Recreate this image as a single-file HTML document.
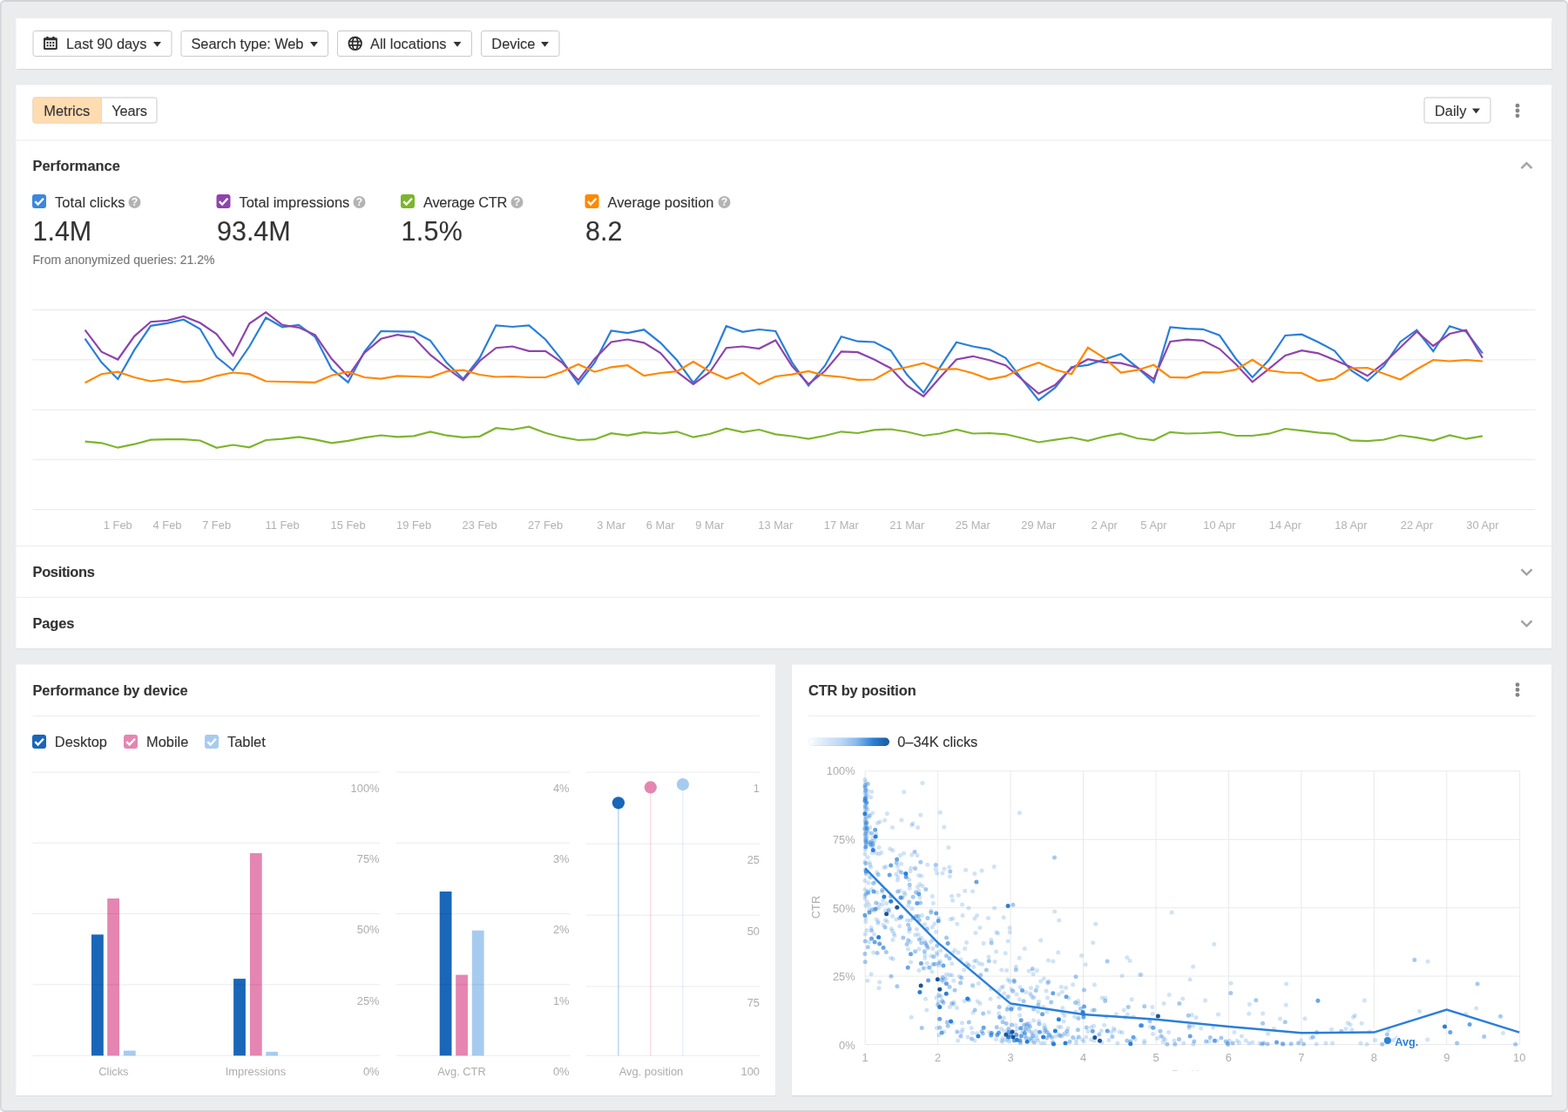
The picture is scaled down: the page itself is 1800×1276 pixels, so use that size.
<!DOCTYPE html>
<html lang="en"><head><meta charset="utf-8"><title>Performance dashboard</title>
<style>
*{box-sizing:border-box;margin:0;padding:0}
html,body{width:1800px;height:1276px;background:#fff;overflow:hidden}
#root{position:absolute;left:0;top:0;width:3600px;height:2552px;transform:scale(0.5);transform-origin:0 0}
body{font-family:"Liberation Sans", Arial, Helvetica, sans-serif;color:#333333;font-size:32px;position:relative}
#frame{position:absolute;left:0;top:0;width:3600px;height:2552px;background:#ebecee;border:solid #d1d3d6;border-width:4px 3.5px 4px 3.5px;border-radius:11px;overflow:hidden}
.panel{position:absolute;background:#fff;box-shadow:0 1px 2px rgba(0,0,0,0.09)}
.abs{position:absolute}
.t{position:absolute;white-space:nowrap;line-height:40px;-webkit-text-stroke:0.24px currentColor}
.b{font-weight:bold}
.btn{position:absolute;height:60px;border:2px solid #c9c9c9;border-radius:6px;background:#fff}
.hr{position:absolute;height:2px;background:#ececec}
svg{position:absolute;left:0;top:0;overflow:visible}
svg text{font-family:"Liberation Sans", Arial, Helvetica, sans-serif}
</style></head><body>
<div id="root">
<div id="frame"></div>
<div class="panel" style="left:37px;top:42px;width:3526px;height:116px"></div>
<div class="panel" style="left:37px;top:194.5px;width:3526px;height:1293.5px"></div>
<div class="panel" style="left:37px;top:1525px;width:1744px;height:989px"></div>
<div class="panel" style="left:1818px;top:1525px;width:1745px;height:989px"></div>
<div class="btn" style="left:75px;top:70px;width:320px;height:60px;"></div>
<svg class="abs" style="left:100.4px;top:83.6px;width:31.6px;height:30px" viewBox="0 0 15.8 15"><path d="M3.1 0.4a0.4 0.4 0 0 1 0.4-0.4h1.8a0.4 0.4 0 0 1 0.4 0.4v0.9h4.4v-0.9a0.4 0.4 0 0 1 0.4-0.4h1.8a0.4 0.4 0 0 1 0.4 0.4v0.9h1.7c0.8 0 1.4 0.6 1.4 1.4v10.9c0 0.8-0.6 1.4-1.4 1.4h-13c-0.8 0-1.4-0.6-1.4-1.4v-10.9c0-0.8 0.6-1.4 1.4-1.4h1.7z" fill="#2e2e2e"/><rect x="1.85" y="4.2" width="12.1" height="8.9" fill="#ececec"/><g fill="#222"><rect x="3.6" y="6.0" width="1.9" height="1.9" rx="0.5"/><rect x="6.95" y="6.0" width="1.9" height="1.9" rx="0.5"/><rect x="10.3" y="6.0" width="1.9" height="1.9" rx="0.5"/><rect x="3.6" y="9.3" width="1.9" height="1.9" rx="0.5"/><rect x="6.95" y="9.3" width="1.9" height="1.9" rx="0.5"/><rect x="10.3" y="9.3" width="1.9" height="1.9" rx="0.5"/></g></svg>
<div class="t " style="top:80.02px;font-size:32.82px;color:#333333;left:152px;letter-spacing:-0.12px;">Last 90 days</div>
<svg class="abs" style="left:352px;top:95.8px;width:18px;height:11.6px" viewBox="0 0 9 5.8"><path d="M0 0H9L4.5 5.8Z" fill="#333"/></svg>
<div class="btn" style="left:414.5px;top:70px;width:339.5px;height:60px;"></div>
<div class="t " style="top:80.02px;font-size:32.82px;color:#333333;left:439px;letter-spacing:-0.16px;">Search type: Web</div>
<svg class="abs" style="left:711.6px;top:95.8px;width:18px;height:11.6px" viewBox="0 0 9 5.8"><path d="M0 0H9L4.5 5.8Z" fill="#333"/></svg>
<div class="btn" style="left:774px;top:70px;width:310px;height:60px;"></div>
<svg class="abs" style="left:798.6px;top:83px;width:32.8px;height:32.8px" viewBox="0 0 16.4 16.4"><g fill="none" stroke="#2e2e2e" stroke-width="1.75"><circle cx="8.2" cy="8.35" r="7.3"/><ellipse cx="8.2" cy="8.35" rx="3.1" ry="7.3"/><path d="M1.3 6.2h13.8M1.3 10.5h13.8"/></g></svg>
<div class="t " style="top:80.02px;font-size:32.82px;color:#333333;left:850px;">All locations</div>
<svg class="abs" style="left:1041.2px;top:95.8px;width:18px;height:11.6px" viewBox="0 0 9 5.8"><path d="M0 0H9L4.5 5.8Z" fill="#333"/></svg>
<div class="btn" style="left:1104px;top:70px;width:181.4px;height:60px;"></div>
<div class="t " style="top:80.02px;font-size:32.82px;color:#333333;left:1128.6px;">Device</div>
<svg class="abs" style="left:1242px;top:95.8px;width:18px;height:11.6px" viewBox="0 0 9 5.8"><path d="M0 0H9L4.5 5.8Z" fill="#333"/></svg>
<div class="btn" style="left:75px;top:223px;width:286px;height:60px"></div>
<div class="abs" style="left:75px;top:223px;width:158.5px;height:60px;background:#ffdcb1;border:2px solid #fbd5a8;border-radius:6px 0 0 6px"></div>
<div class="t " style="top:234.62px;font-size:32.82px;color:#333333;left:100.6px;">Metrics</div>
<div class="t " style="top:234.62px;font-size:32.82px;color:#333333;left:256.6px;letter-spacing:-0.4px;">Years</div>
<div class="btn" style="left:3269px;top:223px;width:154px;height:60px;"></div>
<div class="t " style="top:234.02px;font-size:32.82px;color:#333333;left:3294px;">Daily</div>
<svg class="abs" style="left:3379.6px;top:249px;width:18px;height:11.6px" viewBox="0 0 9 5.8"><path d="M0 0H9L4.5 5.8Z" fill="#333"/></svg>
<svg class="abs" style="left:3477.8px;top:235.6px;width:12px;height:36px" viewBox="0 0 6 18"><circle cx="3" cy="3.15" r="2.4" fill="#858585"/><circle cx="3" cy="9" r="2.4" fill="#858585"/><circle cx="3" cy="14.85" r="2.4" fill="#858585"/></svg>
<div class="hr" style="left:37px;top:321px;width:3526px"></div>
<div class="t " style="top:361.22px;font-size:32.82px;color:#333333;left:75px;font-weight:bold;">Performance</div>
<svg class="abs" style="left:3490.6px;top:370px;width:28px;height:20px" viewBox="0 0 14 10"><path d="M1 8.2L7 2.2L13 8.2" fill="none" stroke="#a3a3a3" stroke-width="2.5"/></svg>
<svg class="abs" style="left:74.4px;top:446.4px;width:32px;height:32px" viewBox="0 0 16 16"><rect x="0" y="0" width="16" height="16" rx="3" fill="#3a88dd"/><path d="M3.3 8.1L6.6 11.5L12.9 4.8" fill="none" stroke="#fff" stroke-width="2.4"/></svg>
<div class="t " style="top:443.82px;font-size:32.82px;color:#333333;left:126px;letter-spacing:0.2px;">Total clicks</div>
<svg class="abs" style="left:295.2px;top:450px;width:28px;height:28px" viewBox="0 0 14 14"><circle cx="7" cy="7" r="7" fill="#b3b3b3"/><text x="7" y="11.1" font-size="12.2" font-weight="bold" fill="#fff" text-anchor="middle">?</text></svg>
<div class="t " style="top:509.68px;font-size:60.94px;color:#333333;left:75px;">1.4M</div>
<svg class="abs" style="left:497.4px;top:446.4px;width:32px;height:32px" viewBox="0 0 16 16"><rect x="0" y="0" width="16" height="16" rx="3" fill="#8e44ad"/><path d="M3.3 8.1L6.6 11.5L12.9 4.8" fill="none" stroke="#fff" stroke-width="2.4"/></svg>
<div class="t " style="top:443.82px;font-size:32.82px;color:#333333;left:549px;">Total impressions</div>
<svg class="abs" style="left:810.8px;top:450px;width:28px;height:28px" viewBox="0 0 14 14"><circle cx="7" cy="7" r="7" fill="#b3b3b3"/><text x="7" y="11.1" font-size="12.2" font-weight="bold" fill="#fff" text-anchor="middle">?</text></svg>
<div class="t " style="top:509.68px;font-size:60.94px;color:#333333;left:498px;">93.4M</div>
<svg class="abs" style="left:920.4px;top:446.4px;width:32px;height:32px" viewBox="0 0 16 16"><rect x="0" y="0" width="16" height="16" rx="3" fill="#7db52e"/><path d="M3.3 8.1L6.6 11.5L12.9 4.8" fill="none" stroke="#fff" stroke-width="2.4"/></svg>
<div class="t " style="top:443.82px;font-size:32.82px;color:#333333;left:972px;letter-spacing:-0.54px;">Average CTR</div>
<svg class="abs" style="left:1173.2px;top:450px;width:28px;height:28px" viewBox="0 0 14 14"><circle cx="7" cy="7" r="7" fill="#b3b3b3"/><text x="7" y="11.1" font-size="12.2" font-weight="bold" fill="#fff" text-anchor="middle">?</text></svg>
<div class="t " style="top:509.68px;font-size:60.94px;color:#333333;left:921px;letter-spacing:0.6px;">1.5%</div>
<svg class="abs" style="left:1343.4px;top:446.4px;width:32px;height:32px" viewBox="0 0 16 16"><rect x="0" y="0" width="16" height="16" rx="3" fill="#ff8800"/><path d="M3.3 8.1L6.6 11.5L12.9 4.8" fill="none" stroke="#fff" stroke-width="2.4"/></svg>
<div class="t " style="top:443.82px;font-size:32.82px;color:#333333;left:1395px;">Average position</div>
<svg class="abs" style="left:1649px;top:450px;width:28px;height:28px" viewBox="0 0 14 14"><circle cx="7" cy="7" r="7" fill="#b3b3b3"/><text x="7" y="11.1" font-size="12.2" font-weight="bold" fill="#fff" text-anchor="middle">?</text></svg>
<div class="t " style="top:509.68px;font-size:60.94px;color:#333333;left:1344px;">8.2</div>
<div class="t " style="top:576.26px;font-size:28.12px;color:#777;left:75px;letter-spacing:-0.08px;">From anonymized queries: 21.2%</div>
<svg class="abs" style="left:0px;top:0px;width:3600px;height:2552px" viewBox="0 0 1800 1276">
<rect x="37.5" y="354.9" width="1725" height="1.2" fill="#ebebeb"/>
<rect x="37.5" y="412.2" width="1725" height="1.2" fill="#ebebeb"/>
<rect x="37.5" y="469.6" width="1725" height="1.2" fill="#ebebeb"/>
<rect x="37.5" y="526.9" width="1725" height="1.2" fill="#ebebeb"/>
<rect x="37.5" y="584.0" width="1725" height="1.2" fill="#ebebeb"/>
<polyline points="97.6,388.7 116.5,415.8 135.3,435.0 154.2,401.7 173.1,373.8 192.0,370.8 210.8,366.7 229.7,377.5 248.6,409.5 267.5,425.0 286.3,397.5 305.2,364.5 324.1,375.3 343.0,372.8 361.8,386.7 380.7,423.3 399.6,438.7 418.5,403.3 437.3,380.0 456.2,380.3 475.1,380.7 494.0,390.8 512.8,416.3 531.7,434.7 550.6,410.8 569.4,373.3 588.3,375.0 607.2,373.3 626.1,389.5 644.9,412.8 663.8,440.5 682.7,415.8 701.6,379.5 720.4,382.2 739.3,378.3 758.2,393.3 777.1,413.3 795.9,439.2 814.8,417.5 833.7,374.2 852.6,380.8 871.4,378.0 890.3,380.0 909.2,415.8 928.1,442.5 946.9,419.7 965.8,386.2 984.7,391.7 1003.6,392.5 1022.4,402.2 1041.3,430.0 1060.2,450.5 1079.0,421.7 1097.9,392.8 1116.8,397.5 1135.7,400.8 1154.5,410.8 1173.4,435.3 1192.3,459.2 1211.2,445.0 1230.0,421.2 1248.9,418.8 1267.8,412.5 1286.7,406.3 1305.5,421.7 1324.4,438.7 1343.3,375.5 1362.2,377.2 1381.0,377.8 1399.9,384.7 1418.8,411.7 1437.7,433.0 1456.5,413.3 1475.4,385.0 1494.3,383.7 1513.1,392.5 1532.0,402.5 1550.9,425.0 1569.8,437.2 1588.6,420.0 1607.5,392.2 1626.4,378.7 1645.3,403.0 1664.1,374.2 1683.0,380.5 1701.9,405.3" fill="none" stroke="#2a7fd8" stroke-width="2.2" stroke-linejoin="miter" stroke-linecap="butt"/>
<polyline points="97.6,378.7 116.5,403.7 135.3,412.5 154.2,385.8 173.1,369.2 192.0,367.8 210.8,363.0 229.7,370.5 248.6,383.3 267.5,408.0 286.3,371.3 305.2,358.3 324.1,372.8 343.0,375.8 361.8,384.3 380.7,411.8 399.6,432.0 418.5,404.7 437.3,388.8 456.2,384.2 475.1,387.2 494.0,407.2 512.8,422.2 531.7,436.3 550.6,414.2 569.4,399.2 588.3,397.5 607.2,402.8 626.1,402.8 644.9,415.8 663.8,436.3 682.7,411.7 701.6,392.5 720.4,389.5 739.3,393.3 758.2,405.0 777.1,426.7 795.9,440.8 814.8,427.0 833.7,399.2 852.6,397.5 871.4,400.0 890.3,390.5 909.2,420.0 928.1,440.8 946.9,425.8 965.8,403.3 984.7,404.2 1003.6,412.5 1022.4,422.5 1041.3,442.5 1060.2,454.7 1079.0,433.3 1097.9,412.5 1116.8,408.8 1135.7,413.3 1154.5,419.2 1173.4,435.5 1192.3,451.7 1211.2,441.8 1230.0,422.5 1248.9,412.2 1267.8,415.8 1286.7,416.7 1305.5,421.7 1324.4,435.0 1343.3,392.0 1362.2,389.7 1381.0,390.8 1399.9,400.3 1418.8,418.0 1437.7,438.3 1456.5,423.3 1475.4,408.0 1494.3,402.2 1513.1,405.3 1532.0,413.0 1550.9,421.3 1569.8,431.3 1588.6,416.7 1607.5,398.8 1626.4,380.5 1645.3,397.0 1664.1,383.0 1683.0,378.8 1701.9,410.8" fill="none" stroke="#8e44ad" stroke-width="2.2" stroke-linejoin="miter" stroke-linecap="butt"/>
<polyline points="97.6,506.7 116.5,508.3 135.3,513.7 154.2,509.7 173.1,504.7 192.0,504.2 210.8,504.2 229.7,505.5 248.6,513.8 267.5,510.5 286.3,513.3 305.2,505.0 324.1,503.7 343.0,501.3 361.8,504.3 380.7,508.3 399.6,505.8 418.5,502.2 437.3,499.5 456.2,501.3 475.1,500.3 494.0,495.5 512.8,499.7 531.7,501.8 550.6,500.8 569.4,491.2 588.3,493.0 607.2,489.7 626.1,496.7 644.9,501.7 663.8,505.0 682.7,504.2 701.6,497.2 720.4,499.7 739.3,496.2 758.2,497.5 777.1,495.3 795.9,501.7 814.8,498.0 833.7,491.7 852.6,495.8 871.4,493.0 890.3,498.3 909.2,500.5 928.1,503.7 946.9,500.0 965.8,495.3 984.7,497.0 1003.6,493.3 1022.4,492.5 1041.3,495.5 1060.2,500.0 1079.0,497.5 1097.9,493.0 1116.8,497.5 1135.7,497.0 1154.5,498.3 1173.4,502.8 1192.3,507.5 1211.2,504.7 1230.0,502.0 1248.9,505.8 1267.8,500.8 1286.7,497.5 1305.5,503.0 1324.4,505.0 1343.3,495.8 1362.2,497.5 1381.0,497.0 1399.9,495.8 1418.8,500.0 1437.7,500.0 1456.5,497.7 1475.4,492.0 1494.3,494.2 1513.1,496.3 1532.0,497.8 1550.9,505.3 1569.8,506.2 1588.6,504.5 1607.5,499.5 1626.4,502.2 1645.3,505.5 1664.1,499.5 1683.0,503.7 1701.9,500.3" fill="none" stroke="#7db52e" stroke-width="2.2" stroke-linejoin="miter" stroke-linecap="butt"/>
<polyline points="97.6,439.2 116.5,429.2 135.3,426.7 154.2,433.0 173.1,437.5 192.0,435.0 210.8,438.3 229.7,437.2 248.6,431.3 267.5,427.5 286.3,429.2 305.2,437.5 324.1,438.0 343.0,438.3 361.8,438.8 380.7,430.8 399.6,426.7 418.5,433.0 437.3,434.7 456.2,431.3 475.1,432.0 494.0,432.8 512.8,426.2 531.7,424.7 550.6,430.0 569.4,432.5 588.3,432.0 607.2,433.0 626.1,433.0 644.9,426.7 663.8,418.0 682.7,426.7 701.6,421.3 720.4,419.2 739.3,431.2 758.2,428.0 777.1,426.2 795.9,415.0 814.8,426.3 833.7,434.5 852.6,427.8 871.4,440.8 890.3,432.0 909.2,429.7 928.1,426.0 946.9,430.8 965.8,432.5 984.7,435.8 1003.6,435.5 1022.4,425.0 1041.3,421.3 1060.2,416.7 1079.0,423.8 1097.9,423.3 1116.8,428.3 1135.7,435.3 1154.5,431.7 1173.4,422.8 1192.3,416.3 1211.2,424.3 1230.0,429.2 1248.9,398.8 1267.8,410.8 1286.7,427.5 1305.5,424.7 1324.4,418.8 1343.3,432.8 1362.2,433.3 1381.0,427.2 1399.9,427.5 1418.8,424.2 1437.7,412.8 1456.5,425.0 1475.4,427.5 1494.3,428.0 1513.1,437.0 1532.0,434.5 1550.9,422.5 1569.8,422.0 1588.6,428.7 1607.5,435.5 1626.4,423.8 1645.3,413.0 1664.1,414.5 1683.0,413.0 1701.9,414.5" fill="none" stroke="#ff8800" stroke-width="2.2" stroke-linejoin="miter" stroke-linecap="butt"/>
<text x="135.3" y="607" font-size="12.89" fill="#b2b2b2" text-anchor="middle">1 Feb</text>
<text x="192.0" y="607" font-size="12.89" fill="#b2b2b2" text-anchor="middle">4 Feb</text>
<text x="248.6" y="607" font-size="12.89" fill="#b2b2b2" text-anchor="middle">7 Feb</text>
<text x="324.1" y="607" font-size="12.89" fill="#b2b2b2" text-anchor="middle">11 Feb</text>
<text x="399.6" y="607" font-size="12.89" fill="#b2b2b2" text-anchor="middle">15 Feb</text>
<text x="475.1" y="607" font-size="12.89" fill="#b2b2b2" text-anchor="middle">19 Feb</text>
<text x="550.6" y="607" font-size="12.89" fill="#b2b2b2" text-anchor="middle">23 Feb</text>
<text x="626.1" y="607" font-size="12.89" fill="#b2b2b2" text-anchor="middle">27 Feb</text>
<text x="701.6" y="607" font-size="12.89" fill="#b2b2b2" text-anchor="middle">3 Mar</text>
<text x="758.2" y="607" font-size="12.89" fill="#b2b2b2" text-anchor="middle">6 Mar</text>
<text x="814.8" y="607" font-size="12.89" fill="#b2b2b2" text-anchor="middle">9 Mar</text>
<text x="890.3" y="607" font-size="12.89" fill="#b2b2b2" text-anchor="middle">13 Mar</text>
<text x="965.8" y="607" font-size="12.89" fill="#b2b2b2" text-anchor="middle">17 Mar</text>
<text x="1041.3" y="607" font-size="12.89" fill="#b2b2b2" text-anchor="middle">21 Mar</text>
<text x="1116.8" y="607" font-size="12.89" fill="#b2b2b2" text-anchor="middle">25 Mar</text>
<text x="1192.3" y="607" font-size="12.89" fill="#b2b2b2" text-anchor="middle">29 Mar</text>
<text x="1267.8" y="607" font-size="12.89" fill="#b2b2b2" text-anchor="middle">2 Apr</text>
<text x="1324.4" y="607" font-size="12.89" fill="#b2b2b2" text-anchor="middle">5 Apr</text>
<text x="1399.9" y="607" font-size="12.89" fill="#b2b2b2" text-anchor="middle">10 Apr</text>
<text x="1475.4" y="607" font-size="12.89" fill="#b2b2b2" text-anchor="middle">14 Apr</text>
<text x="1550.9" y="607" font-size="12.89" fill="#b2b2b2" text-anchor="middle">18 Apr</text>
<text x="1626.4" y="607" font-size="12.89" fill="#b2b2b2" text-anchor="middle">22 Apr</text>
<text x="1701.9" y="607" font-size="12.89" fill="#b2b2b2" text-anchor="middle">30 Apr</text>
</svg>
<div class="hr" style="left:37px;top:1251.5px;width:3526px"></div>
<div class="t " style="top:1292.42px;font-size:32.82px;color:#333333;left:75px;font-weight:bold;letter-spacing:-0.6px;">Positions</div>
<svg class="abs" style="left:3490.6px;top:1303px;width:28px;height:20px" viewBox="0 0 14 10"><path d="M1 1.8L7 7.8L13 1.8" fill="none" stroke="#a3a3a3" stroke-width="2.5"/></svg>
<div class="hr" style="left:37px;top:1369.5px;width:3526px"></div>
<div class="t " style="top:1410.82px;font-size:32.82px;color:#333333;left:75px;font-weight:bold;letter-spacing:-0.2px;">Pages</div>
<svg class="abs" style="left:3490.6px;top:1421px;width:28px;height:20px" viewBox="0 0 14 10"><path d="M1 1.8L7 7.8L13 1.8" fill="none" stroke="#a3a3a3" stroke-width="2.5"/></svg>
<div class="t " style="top:1564.62px;font-size:32.82px;color:#333333;left:75px;font-weight:bold;letter-spacing:-0.16px;">Performance by device</div>
<div class="hr" style="left:75px;top:1642px;width:1669px"></div>
<svg class="abs" style="left:74.2px;top:1686px;width:32px;height:32px" viewBox="0 0 16 16"><rect x="0" y="0" width="16" height="16" rx="3" fill="#1a66b8"/><path d="M3.3 8.1L6.6 11.5L12.9 4.8" fill="none" stroke="#fff" stroke-width="2.4"/></svg>
<div class="t " style="top:1683.22px;font-size:32.82px;color:#333333;left:125.6px;">Desktop</div>
<svg class="abs" style="left:284.4px;top:1686px;width:32px;height:32px" viewBox="0 0 16 16"><rect x="0" y="0" width="16" height="16" rx="3" fill="#e585b2"/><path d="M3.3 8.1L6.6 11.5L12.9 4.8" fill="none" stroke="#fff" stroke-width="2.4"/></svg>
<div class="t " style="top:1683.22px;font-size:32.82px;color:#333333;left:336px;">Mobile</div>
<svg class="abs" style="left:470.4px;top:1686px;width:32px;height:32px" viewBox="0 0 16 16"><rect x="0" y="0" width="16" height="16" rx="3" fill="#a7cbef"/><path d="M3.3 8.1L6.6 11.5L12.9 4.8" fill="none" stroke="#fff" stroke-width="2.4"/></svg>
<div class="t " style="top:1683.22px;font-size:32.82px;color:#333333;left:522px;">Tablet</div>
<svg class="abs" style="left:0px;top:0px;width:3600px;height:2552px" viewBox="0 0 1800 1276">
<rect x="105.0" y="1072.4" width="13.8" height="138.9" fill="#1a66b8"/>
<rect x="123.2" y="1031.0" width="13.8" height="180.3" fill="#e585b2"/>
<rect x="141.9" y="1205.6" width="13.8" height="5.7" fill="#a7cbef"/>
<rect x="268.1" y="1123.1" width="13.8" height="88.2" fill="#1a66b8"/>
<rect x="286.9" y="979.0" width="13.8" height="232.3" fill="#e585b2"/>
<rect x="305.3" y="1206.9" width="13.8" height="4.4" fill="#a7cbef"/>
<rect x="504.7" y="1023.0" width="13.8" height="188.3" fill="#1a66b8"/>
<rect x="523.2" y="1118.6" width="13.8" height="92.7" fill="#e585b2"/>
<rect x="541.8" y="1067.7" width="13.8" height="143.6" fill="#a7cbef"/>
<rect x="37.5" y="885.6" width="398.5" height="1" fill="#000" fill-opacity="0.08"/>
<rect x="37.5" y="966.8" width="398.5" height="1" fill="#000" fill-opacity="0.08"/>
<rect x="37.5" y="1048.0" width="398.5" height="1" fill="#000" fill-opacity="0.08"/>
<rect x="37.5" y="1129.3" width="398.5" height="1" fill="#000" fill-opacity="0.08"/>
<rect x="37.5" y="1210.8" width="398.5" height="1" fill="#000" fill-opacity="0.08"/>
<rect x="454.7" y="885.6" width="199.5" height="1" fill="#000" fill-opacity="0.08"/>
<rect x="454.7" y="966.8" width="199.5" height="1" fill="#000" fill-opacity="0.08"/>
<rect x="454.7" y="1048.0" width="199.5" height="1" fill="#000" fill-opacity="0.08"/>
<rect x="454.7" y="1129.3" width="199.5" height="1" fill="#000" fill-opacity="0.08"/>
<rect x="454.7" y="1210.8" width="199.5" height="1" fill="#000" fill-opacity="0.08"/>
<rect x="672.7" y="885.7" width="199.5" height="1" fill="#000" fill-opacity="0.08"/>
<rect x="672.7" y="967.7" width="199.5" height="1" fill="#000" fill-opacity="0.08"/>
<rect x="672.7" y="1049.6" width="199.5" height="1" fill="#000" fill-opacity="0.08"/>
<rect x="672.7" y="1131.5" width="199.5" height="1" fill="#000" fill-opacity="0.08"/>
<rect x="672.7" y="1210.8" width="199.5" height="1" fill="#000" fill-opacity="0.08"/>
<text x="435.5" y="908.9" font-size="12.89" fill="#adadad" text-anchor="end">100%</text>
<text x="435.5" y="990.1" font-size="12.89" fill="#adadad" text-anchor="end">75%</text>
<text x="435.5" y="1071.3" font-size="12.89" fill="#adadad" text-anchor="end">50%</text>
<text x="435.5" y="1152.6" font-size="12.89" fill="#adadad" text-anchor="end">25%</text>
<text x="435.5" y="1234.1" font-size="12.89" fill="#adadad" text-anchor="end">0%</text>
<text x="653.5" y="908.9" font-size="12.89" fill="#adadad" text-anchor="end">4%</text>
<text x="653.5" y="990.1" font-size="12.89" fill="#adadad" text-anchor="end">3%</text>
<text x="653.5" y="1071.3" font-size="12.89" fill="#adadad" text-anchor="end">2%</text>
<text x="653.5" y="1152.6" font-size="12.89" fill="#adadad" text-anchor="end">1%</text>
<text x="653.5" y="1234.1" font-size="12.89" fill="#adadad" text-anchor="end">0%</text>
<text x="872" y="909.0" font-size="12.89" fill="#adadad" text-anchor="end">1</text>
<text x="872" y="991.0" font-size="12.89" fill="#adadad" text-anchor="end">25</text>
<text x="872" y="1072.9" font-size="12.89" fill="#adadad" text-anchor="end">50</text>
<text x="872" y="1154.8" font-size="12.89" fill="#adadad" text-anchor="end">75</text>
<text x="872" y="1234.1" font-size="12.89" fill="#adadad" text-anchor="end">100</text>
<text x="130.4" y="1233.9" font-size="12.89" fill="#adadad" text-anchor="middle">Clicks</text>
<text x="293.5" y="1233.9" font-size="12.89" fill="#adadad" text-anchor="middle">Impressions</text>
<text x="530" y="1233.9" font-size="12.89" fill="#adadad" text-anchor="middle">Avg. CTR</text>
<text x="747.5" y="1233.9" font-size="12.89" fill="#adadad" text-anchor="middle">Avg. position</text>
<rect x="709.3" y="921.3" width="1.2" height="290.0" fill="#1a66b8" fill-opacity="0.35"/>
<circle cx="709.9" cy="921.3" r="7.1" fill="#1a66b8"/>
<rect x="746.2" y="903.4" width="1.2" height="307.9" fill="#e585b2" fill-opacity="0.35"/>
<circle cx="746.8" cy="903.4" r="7.1" fill="#e585b2"/>
<rect x="783.3" y="900.1" width="1.2" height="311.2" fill="#a7cbef" fill-opacity="0.35"/>
<circle cx="783.9" cy="900.1" r="7.1" fill="#a7cbef"/>
</svg>
<div class="t " style="top:1564.62px;font-size:32.82px;color:#333333;left:1856px;font-weight:bold;letter-spacing:-0.3px;">CTR by position</div>
<svg class="abs" style="left:3477.8px;top:1565.4px;width:12px;height:36px" viewBox="0 0 6 18"><circle cx="3" cy="3.15" r="2.4" fill="#858585"/><circle cx="3" cy="9" r="2.4" fill="#858585"/><circle cx="3" cy="14.85" r="2.4" fill="#858585"/></svg>
<div class="hr" style="left:1856px;top:1642px;width:1669px"></div>
<div class="abs" style="left:1856px;top:1692.5px;width:186px;height:19.5px;border-radius:10px;background:linear-gradient(90deg,#ffffff 0%,#eaf2fb 10%,#bcd8f4 40%,#8dbcec 58%,#2b7fd8 80%,#1d5fa3 97%);box-shadow:inset 0 0 0 1px rgba(0,0,0,0.09)"></div>
<div class="t " style="top:1683.22px;font-size:32.82px;color:#333333;left:2060.4px;">0&#8211;34K clicks</div>
<svg class="abs" style="left:0px;top:0px;width:3600px;height:2552px" viewBox="0 0 1800 1276">
<rect x="992.75" y="884.9" width="0.9" height="313.6" fill="#e7e7e7"/>
<text x="993.2" y="1218.4" font-size="12.89" fill="#adadad" text-anchor="middle">1</text>
<rect x="1076.19" y="884.9" width="0.9" height="313.6" fill="#e7e7e7"/>
<text x="1076.6" y="1218.4" font-size="12.89" fill="#adadad" text-anchor="middle">2</text>
<rect x="1159.64" y="884.9" width="0.9" height="313.6" fill="#e7e7e7"/>
<text x="1160.1" y="1218.4" font-size="12.89" fill="#adadad" text-anchor="middle">3</text>
<rect x="1243.08" y="884.9" width="0.9" height="313.6" fill="#e7e7e7"/>
<text x="1243.5" y="1218.4" font-size="12.89" fill="#adadad" text-anchor="middle">4</text>
<rect x="1326.53" y="884.9" width="0.9" height="313.6" fill="#e7e7e7"/>
<text x="1327.0" y="1218.4" font-size="12.89" fill="#adadad" text-anchor="middle">5</text>
<rect x="1409.97" y="884.9" width="0.9" height="313.6" fill="#e7e7e7"/>
<text x="1410.4" y="1218.4" font-size="12.89" fill="#adadad" text-anchor="middle">6</text>
<rect x="1493.42" y="884.9" width="0.9" height="313.6" fill="#e7e7e7"/>
<text x="1493.9" y="1218.4" font-size="12.89" fill="#adadad" text-anchor="middle">7</text>
<rect x="1576.86" y="884.9" width="0.9" height="313.6" fill="#e7e7e7"/>
<text x="1577.3" y="1218.4" font-size="12.89" fill="#adadad" text-anchor="middle">8</text>
<rect x="1660.31" y="884.9" width="0.9" height="313.6" fill="#e7e7e7"/>
<text x="1660.8" y="1218.4" font-size="12.89" fill="#adadad" text-anchor="middle">9</text>
<rect x="1744.25" y="884.9" width="0.9" height="313.6" fill="#e7e7e7"/>
<text x="1744.2" y="1218.4" font-size="12.89" fill="#adadad" text-anchor="middle">10</text>
<rect x="993.2" y="1198.05" width="751.9" height="0.9" fill="#e7e7e7"/>
<text x="981.7" y="1203.9" font-size="12.89" fill="#adadad" text-anchor="end">0%</text>
<rect x="993.2" y="1119.65" width="751.9" height="0.9" fill="#e7e7e7"/>
<text x="981.7" y="1125.2" font-size="12.89" fill="#adadad" text-anchor="end">25%</text>
<rect x="993.2" y="1041.25" width="751.9" height="0.9" fill="#e7e7e7"/>
<text x="981.7" y="1046.5" font-size="12.89" fill="#adadad" text-anchor="end">50%</text>
<rect x="993.2" y="962.85" width="751.9" height="0.9" fill="#e7e7e7"/>
<text x="981.7" y="967.8" font-size="12.89" fill="#adadad" text-anchor="end">75%</text>
<rect x="993.2" y="884.45" width="751.9" height="0.9" fill="#e7e7e7"/>
<text x="981.7" y="889.1" font-size="12.89" fill="#adadad" text-anchor="end">100%</text>
<text transform="translate(941,1041) rotate(-90)" font-size="12.89" fill="#adadad" text-anchor="middle">CTR</text>
<circle cx="1639.0" cy="1103.3" r="2.5" fill="#2a7fd8" fill-opacity="0.22"/>
<circle cx="1566.4" cy="1148.1" r="2.5" fill="#2a7fd8" fill-opacity="0.22"/>
<circle cx="1629.6" cy="1160.4" r="2.5" fill="#2a7fd8" fill-opacity="0.22"/>
<circle cx="1694.7" cy="1156.9" r="2.5" fill="#2a7fd8" fill-opacity="0.22"/>
<circle cx="1555.4" cy="1165.2" r="2.5" fill="#2a7fd8" fill-opacity="0.22"/>
<circle cx="1553.6" cy="1167.3" r="2.5" fill="#2a7fd8" fill-opacity="0.22"/>
<circle cx="1682.7" cy="1163.5" r="2.5" fill="#2a7fd8" fill-opacity="0.22"/>
<circle cx="1547.3" cy="1173.8" r="2.5" fill="#2a7fd8" fill-opacity="0.22"/>
<circle cx="1550.1" cy="1175.8" r="2.5" fill="#2a7fd8" fill-opacity="0.22"/>
<circle cx="1563.1" cy="1174.2" r="2.5" fill="#2a7fd8" fill-opacity="0.22"/>
<circle cx="1545.0" cy="1180.5" r="2.5" fill="#2a7fd8" fill-opacity="0.22"/>
<circle cx="1551.8" cy="1181.7" r="2.5" fill="#2a7fd8" fill-opacity="0.22"/>
<circle cx="1572.1" cy="1184.0" r="2.5" fill="#2a7fd8" fill-opacity="0.22"/>
<circle cx="1593.9" cy="1182.3" r="2.5" fill="#2a7fd8" fill-opacity="0.22"/>
<circle cx="1725.4" cy="1185.6" r="2.5" fill="#2a7fd8" fill-opacity="0.22"/>
<circle cx="1578.6" cy="1193.4" r="2.5" fill="#2a7fd8" fill-opacity="0.22"/>
<circle cx="1603.4" cy="1191.1" r="2.5" fill="#2a7fd8" fill-opacity="0.22"/>
<circle cx="1599.0" cy="1193.6" r="2.5" fill="#2a7fd8" fill-opacity="0.22"/>
<circle cx="1638.7" cy="1193.1" r="2.5" fill="#2a7fd8" fill-opacity="0.22"/>
<circle cx="1562.0" cy="1197.1" r="2.5" fill="#2a7fd8" fill-opacity="0.22"/>
<circle cx="1569.1" cy="1198.3" r="2.5" fill="#2a7fd8" fill-opacity="0.22"/>
<circle cx="1345.1" cy="1047.1" r="2.5" fill="#2a7fd8" fill-opacity="0.22"/>
<circle cx="1393.8" cy="1083.6" r="2.5" fill="#2a7fd8" fill-opacity="0.22"/>
<circle cx="1369.6" cy="1109.3" r="2.5" fill="#2a7fd8" fill-opacity="0.22"/>
<circle cx="1310.0" cy="1118.4" r="2.5" fill="#2a7fd8" fill-opacity="0.22"/>
<circle cx="1366.1" cy="1124.0" r="2.5" fill="#2a7fd8" fill-opacity="0.22"/>
<circle cx="1413.1" cy="1128.2" r="2.5" fill="#2a7fd8" fill-opacity="0.22"/>
<circle cx="1476.6" cy="1129.0" r="2.5" fill="#2a7fd8" fill-opacity="0.22"/>
<circle cx="1342.2" cy="1141.6" r="2.5" fill="#2a7fd8" fill-opacity="0.22"/>
<circle cx="1357.7" cy="1146.0" r="2.5" fill="#2a7fd8" fill-opacity="0.22"/>
<circle cx="1383.5" cy="1148.1" r="2.5" fill="#2a7fd8" fill-opacity="0.22"/>
<circle cx="1336.1" cy="1151.5" r="2.5" fill="#2a7fd8" fill-opacity="0.22"/>
<circle cx="1434.4" cy="1152.5" r="2.5" fill="#2a7fd8" fill-opacity="0.22"/>
<circle cx="1476.3" cy="1153.2" r="2.5" fill="#2a7fd8" fill-opacity="0.22"/>
<circle cx="1322.8" cy="1155.4" r="2.5" fill="#2a7fd8" fill-opacity="0.22"/>
<circle cx="1323.2" cy="1163.3" r="2.5" fill="#2a7fd8" fill-opacity="0.22"/>
<circle cx="1368.3" cy="1164.5" r="2.5" fill="#2a7fd8" fill-opacity="0.22"/>
<circle cx="1373.0" cy="1167.5" r="2.5" fill="#2a7fd8" fill-opacity="0.22"/>
<circle cx="1398.5" cy="1164.0" r="2.5" fill="#2a7fd8" fill-opacity="0.22"/>
<circle cx="1433.7" cy="1163.3" r="2.5" fill="#2a7fd8" fill-opacity="0.22"/>
<circle cx="1449.6" cy="1162.9" r="2.5" fill="#2a7fd8" fill-opacity="0.22"/>
<circle cx="1469.5" cy="1168.9" r="2.5" fill="#2a7fd8" fill-opacity="0.22"/>
<circle cx="1497.9" cy="1168.7" r="2.5" fill="#2a7fd8" fill-opacity="0.22"/>
<circle cx="1320.7" cy="1178.2" r="2.5" fill="#2a7fd8" fill-opacity="0.22"/>
<circle cx="1369.6" cy="1177.1" r="2.5" fill="#2a7fd8" fill-opacity="0.22"/>
<circle cx="1364.9" cy="1179.8" r="2.5" fill="#2a7fd8" fill-opacity="0.22"/>
<circle cx="1378.7" cy="1180.1" r="2.5" fill="#2a7fd8" fill-opacity="0.22"/>
<circle cx="1392.5" cy="1178.9" r="2.5" fill="#2a7fd8" fill-opacity="0.22"/>
<circle cx="1462.4" cy="1180.5" r="2.5" fill="#2a7fd8" fill-opacity="0.22"/>
<circle cx="1528.5" cy="1181.3" r="2.5" fill="#2a7fd8" fill-opacity="0.22"/>
<circle cx="1341.6" cy="1184.5" r="2.5" fill="#2a7fd8" fill-opacity="0.22"/>
<circle cx="1417.0" cy="1184.5" r="2.5" fill="#2a7fd8" fill-opacity="0.22"/>
<circle cx="1323.5" cy="1186.5" r="2.5" fill="#2a7fd8" fill-opacity="0.22"/>
<circle cx="1455.7" cy="1186.2" r="2.5" fill="#2a7fd8" fill-opacity="0.22"/>
<circle cx="1425.4" cy="1189.1" r="2.5" fill="#2a7fd8" fill-opacity="0.22"/>
<circle cx="1504.8" cy="1191.1" r="2.5" fill="#2a7fd8" fill-opacity="0.22"/>
<circle cx="1328.6" cy="1191.4" r="2.5" fill="#2a7fd8" fill-opacity="0.22"/>
<circle cx="1335.7" cy="1191.1" r="2.5" fill="#2a7fd8" fill-opacity="0.22"/>
<circle cx="1337.3" cy="1193.0" r="2.5" fill="#2a7fd8" fill-opacity="0.22"/>
<circle cx="1348.0" cy="1193.9" r="2.5" fill="#2a7fd8" fill-opacity="0.22"/>
<circle cx="1313.8" cy="1194.2" r="2.5" fill="#2a7fd8" fill-opacity="0.22"/>
<circle cx="1313.5" cy="1196.8" r="2.5" fill="#2a7fd8" fill-opacity="0.22"/>
<circle cx="1335.1" cy="1195.5" r="2.5" fill="#2a7fd8" fill-opacity="0.22"/>
<circle cx="1358.7" cy="1197.1" r="2.5" fill="#2a7fd8" fill-opacity="0.22"/>
<circle cx="1369.9" cy="1198.3" r="2.5" fill="#2a7fd8" fill-opacity="0.22"/>
<circle cx="1388.0" cy="1195.1" r="2.5" fill="#2a7fd8" fill-opacity="0.22"/>
<circle cx="1396.8" cy="1194.2" r="2.5" fill="#2a7fd8" fill-opacity="0.22"/>
<circle cx="1411.3" cy="1194.2" r="2.5" fill="#2a7fd8" fill-opacity="0.22"/>
<circle cx="1420.0" cy="1194.2" r="2.5" fill="#2a7fd8" fill-opacity="0.22"/>
<circle cx="1422.5" cy="1196.4" r="2.5" fill="#2a7fd8" fill-opacity="0.22"/>
<circle cx="1430.2" cy="1194.0" r="2.5" fill="#2a7fd8" fill-opacity="0.22"/>
<circle cx="1433.9" cy="1197.0" r="2.5" fill="#2a7fd8" fill-opacity="0.22"/>
<circle cx="1437.9" cy="1195.9" r="2.5" fill="#2a7fd8" fill-opacity="0.22"/>
<circle cx="1446.1" cy="1197.0" r="2.5" fill="#2a7fd8" fill-opacity="0.22"/>
<circle cx="1493.5" cy="1194.0" r="2.5" fill="#2a7fd8" fill-opacity="0.22"/>
<circle cx="1511.2" cy="1198.0" r="2.5" fill="#2a7fd8" fill-opacity="0.22"/>
<circle cx="1522.0" cy="1197.0" r="2.5" fill="#2a7fd8" fill-opacity="0.22"/>
<circle cx="1529.6" cy="1197.1" r="2.5" fill="#2a7fd8" fill-opacity="0.22"/>
<circle cx="1210.7" cy="1046.0" r="2.5" fill="#2a7fd8" fill-opacity="0.22"/>
<circle cx="1105.1" cy="1050.6" r="2.5" fill="#2a7fd8" fill-opacity="0.22"/>
<circle cx="1121.6" cy="1050.4" r="2.5" fill="#2a7fd8" fill-opacity="0.22"/>
<circle cx="1118.9" cy="1054.0" r="2.5" fill="#2a7fd8" fill-opacity="0.22"/>
<circle cx="1091.3" cy="1054.7" r="2.5" fill="#2a7fd8" fill-opacity="0.22"/>
<circle cx="1094.0" cy="1054.0" r="2.5" fill="#2a7fd8" fill-opacity="0.22"/>
<circle cx="1134.5" cy="1053.5" r="2.5" fill="#2a7fd8" fill-opacity="0.22"/>
<circle cx="1152.2" cy="1052.8" r="2.5" fill="#2a7fd8" fill-opacity="0.22"/>
<circle cx="1215.8" cy="1055.9" r="2.5" fill="#2a7fd8" fill-opacity="0.22"/>
<circle cx="1098.8" cy="1060.3" r="2.5" fill="#2a7fd8" fill-opacity="0.22"/>
<circle cx="1257.8" cy="1060.3" r="2.5" fill="#2a7fd8" fill-opacity="0.22"/>
<circle cx="1124.9" cy="1064.6" r="2.5" fill="#2a7fd8" fill-opacity="0.22"/>
<circle cx="1159.0" cy="1064.7" r="2.5" fill="#2a7fd8" fill-opacity="0.22"/>
<circle cx="1119.9" cy="1070.5" r="2.5" fill="#2a7fd8" fill-opacity="0.22"/>
<circle cx="1143.9" cy="1069.7" r="2.5" fill="#2a7fd8" fill-opacity="0.22"/>
<circle cx="1145.5" cy="1071.1" r="2.5" fill="#2a7fd8" fill-opacity="0.22"/>
<circle cx="1159.2" cy="1069.7" r="2.5" fill="#2a7fd8" fill-opacity="0.22"/>
<circle cx="1137.9" cy="1078.6" r="2.5" fill="#2a7fd8" fill-opacity="0.22"/>
<circle cx="1194.7" cy="1078.9" r="2.5" fill="#2a7fd8" fill-opacity="0.22"/>
<circle cx="1109.5" cy="1081.6" r="2.5" fill="#2a7fd8" fill-opacity="0.22"/>
<circle cx="1129.1" cy="1082.6" r="2.5" fill="#2a7fd8" fill-opacity="0.22"/>
<circle cx="1157.1" cy="1080.1" r="2.5" fill="#2a7fd8" fill-opacity="0.22"/>
<circle cx="1254.7" cy="1081.7" r="2.5" fill="#2a7fd8" fill-opacity="0.22"/>
<circle cx="1107.6" cy="1088.5" r="2.5" fill="#2a7fd8" fill-opacity="0.22"/>
<circle cx="1176.3" cy="1088.6" r="2.5" fill="#2a7fd8" fill-opacity="0.22"/>
<circle cx="1096.0" cy="1090.2" r="2.5" fill="#2a7fd8" fill-opacity="0.22"/>
<circle cx="1100.1" cy="1092.9" r="2.5" fill="#2a7fd8" fill-opacity="0.22"/>
<circle cx="1143.6" cy="1092.0" r="2.5" fill="#2a7fd8" fill-opacity="0.22"/>
<circle cx="1154.2" cy="1093.7" r="2.5" fill="#2a7fd8" fill-opacity="0.22"/>
<circle cx="1214.8" cy="1093.0" r="2.5" fill="#2a7fd8" fill-opacity="0.22"/>
<circle cx="1093.5" cy="1093.3" r="2.5" fill="#2a7fd8" fill-opacity="0.22"/>
<circle cx="1134.9" cy="1097.9" r="2.5" fill="#2a7fd8" fill-opacity="0.22"/>
<circle cx="1241.5" cy="1096.4" r="2.5" fill="#2a7fd8" fill-opacity="0.22"/>
<circle cx="1102.9" cy="1101.1" r="2.5" fill="#2a7fd8" fill-opacity="0.22"/>
<circle cx="1170.2" cy="1099.3" r="2.5" fill="#2a7fd8" fill-opacity="0.22"/>
<circle cx="1293.8" cy="1098.7" r="2.5" fill="#2a7fd8" fill-opacity="0.22"/>
<circle cx="1118.6" cy="1102.9" r="2.5" fill="#2a7fd8" fill-opacity="0.22"/>
<circle cx="1120.7" cy="1102.3" r="2.5" fill="#2a7fd8" fill-opacity="0.22"/>
<circle cx="1142.1" cy="1103.6" r="2.5" fill="#2a7fd8" fill-opacity="0.22"/>
<circle cx="1203.5" cy="1102.1" r="2.5" fill="#2a7fd8" fill-opacity="0.22"/>
<circle cx="1208.9" cy="1103.1" r="2.5" fill="#2a7fd8" fill-opacity="0.22"/>
<circle cx="1297.0" cy="1102.4" r="2.5" fill="#2a7fd8" fill-opacity="0.22"/>
<circle cx="1092.8" cy="1105.8" r="2.5" fill="#2a7fd8" fill-opacity="0.22"/>
<circle cx="1109.8" cy="1105.2" r="2.5" fill="#2a7fd8" fill-opacity="0.22"/>
<circle cx="1123.9" cy="1105.5" r="2.5" fill="#2a7fd8" fill-opacity="0.22"/>
<circle cx="1127.6" cy="1106.5" r="2.5" fill="#2a7fd8" fill-opacity="0.22"/>
<circle cx="1117.6" cy="1109.6" r="2.5" fill="#2a7fd8" fill-opacity="0.22"/>
<circle cx="1166.3" cy="1109.3" r="2.5" fill="#2a7fd8" fill-opacity="0.22"/>
<circle cx="1246.2" cy="1106.8" r="2.5" fill="#2a7fd8" fill-opacity="0.22"/>
<circle cx="1106.7" cy="1113.1" r="2.5" fill="#2a7fd8" fill-opacity="0.22"/>
<circle cx="1149.8" cy="1112.9" r="2.5" fill="#2a7fd8" fill-opacity="0.22"/>
<circle cx="1155.6" cy="1113.6" r="2.5" fill="#2a7fd8" fill-opacity="0.22"/>
<circle cx="1181.2" cy="1114.2" r="2.5" fill="#2a7fd8" fill-opacity="0.22"/>
<circle cx="1190.4" cy="1113.7" r="2.5" fill="#2a7fd8" fill-opacity="0.22"/>
<circle cx="1186.2" cy="1117.7" r="2.5" fill="#2a7fd8" fill-opacity="0.22"/>
<circle cx="1086.3" cy="1118.1" r="2.5" fill="#2a7fd8" fill-opacity="0.22"/>
<circle cx="1090.0" cy="1118.4" r="2.5" fill="#2a7fd8" fill-opacity="0.22"/>
<circle cx="1092.8" cy="1119.0" r="2.5" fill="#2a7fd8" fill-opacity="0.22"/>
<circle cx="1308.6" cy="1118.4" r="2.5" fill="#2a7fd8" fill-opacity="0.22"/>
<circle cx="1288.1" cy="1119.7" r="2.5" fill="#2a7fd8" fill-opacity="0.22"/>
<circle cx="1101.3" cy="1120.3" r="2.5" fill="#2a7fd8" fill-opacity="0.22"/>
<circle cx="1086.0" cy="1123.0" r="2.5" fill="#2a7fd8" fill-opacity="0.22"/>
<circle cx="1094.8" cy="1125.3" r="2.5" fill="#2a7fd8" fill-opacity="0.22"/>
<circle cx="1157.1" cy="1124.0" r="2.5" fill="#2a7fd8" fill-opacity="0.22"/>
<circle cx="1159.0" cy="1126.3" r="2.5" fill="#2a7fd8" fill-opacity="0.22"/>
<circle cx="1194.7" cy="1126.1" r="2.5" fill="#2a7fd8" fill-opacity="0.22"/>
<circle cx="1198.4" cy="1123.1" r="2.5" fill="#2a7fd8" fill-opacity="0.22"/>
<circle cx="1204.1" cy="1125.9" r="2.5" fill="#2a7fd8" fill-opacity="0.22"/>
<circle cx="1123.3" cy="1128.4" r="2.5" fill="#2a7fd8" fill-opacity="0.22"/>
<circle cx="1116.4" cy="1130.3" r="2.5" fill="#2a7fd8" fill-opacity="0.22"/>
<circle cx="1116.7" cy="1131.5" r="2.5" fill="#2a7fd8" fill-opacity="0.22"/>
<circle cx="1231.7" cy="1129.8" r="2.5" fill="#2a7fd8" fill-opacity="0.22"/>
<circle cx="1256.4" cy="1130.0" r="2.5" fill="#2a7fd8" fill-opacity="0.22"/>
<circle cx="1149.8" cy="1133.2" r="2.5" fill="#2a7fd8" fill-opacity="0.22"/>
<circle cx="1151.5" cy="1131.9" r="2.5" fill="#2a7fd8" fill-opacity="0.22"/>
<circle cx="1170.9" cy="1132.8" r="2.5" fill="#2a7fd8" fill-opacity="0.22"/>
<circle cx="1190.7" cy="1132.3" r="2.5" fill="#2a7fd8" fill-opacity="0.22"/>
<circle cx="1183.5" cy="1133.8" r="2.5" fill="#2a7fd8" fill-opacity="0.22"/>
<circle cx="1218.3" cy="1132.4" r="2.5" fill="#2a7fd8" fill-opacity="0.22"/>
<circle cx="1223.6" cy="1133.4" r="2.5" fill="#2a7fd8" fill-opacity="0.22"/>
<circle cx="1137.4" cy="1135.1" r="2.5" fill="#2a7fd8" fill-opacity="0.22"/>
<circle cx="1146.8" cy="1136.9" r="2.5" fill="#2a7fd8" fill-opacity="0.22"/>
<circle cx="1161.1" cy="1135.1" r="2.5" fill="#2a7fd8" fill-opacity="0.22"/>
<circle cx="1177.8" cy="1138.4" r="2.5" fill="#2a7fd8" fill-opacity="0.22"/>
<circle cx="1201.0" cy="1136.9" r="2.5" fill="#2a7fd8" fill-opacity="0.22"/>
<circle cx="1152.7" cy="1140.1" r="2.5" fill="#2a7fd8" fill-opacity="0.22"/>
<circle cx="1167.1" cy="1140.9" r="2.5" fill="#2a7fd8" fill-opacity="0.22"/>
<circle cx="1182.8" cy="1139.9" r="2.5" fill="#2a7fd8" fill-opacity="0.22"/>
<circle cx="1183.7" cy="1142.2" r="2.5" fill="#2a7fd8" fill-opacity="0.22"/>
<circle cx="1215.4" cy="1140.9" r="2.5" fill="#2a7fd8" fill-opacity="0.22"/>
<circle cx="1219.4" cy="1138.2" r="2.5" fill="#2a7fd8" fill-opacity="0.22"/>
<circle cx="1146.5" cy="1144.3" r="2.5" fill="#2a7fd8" fill-opacity="0.22"/>
<circle cx="1185.3" cy="1144.7" r="2.5" fill="#2a7fd8" fill-opacity="0.22"/>
<circle cx="1187.2" cy="1144.5" r="2.5" fill="#2a7fd8" fill-opacity="0.22"/>
<circle cx="1202.6" cy="1145.0" r="2.5" fill="#2a7fd8" fill-opacity="0.22"/>
<circle cx="1227.0" cy="1145.3" r="2.5" fill="#2a7fd8" fill-opacity="0.22"/>
<circle cx="1265.2" cy="1145.0" r="2.5" fill="#2a7fd8" fill-opacity="0.22"/>
<circle cx="1268.9" cy="1145.3" r="2.5" fill="#2a7fd8" fill-opacity="0.22"/>
<circle cx="1107.3" cy="1148.7" r="2.5" fill="#2a7fd8" fill-opacity="0.22"/>
<circle cx="1137.0" cy="1146.3" r="2.5" fill="#2a7fd8" fill-opacity="0.22"/>
<circle cx="1170.3" cy="1146.8" r="2.5" fill="#2a7fd8" fill-opacity="0.22"/>
<circle cx="1192.5" cy="1149.3" r="2.5" fill="#2a7fd8" fill-opacity="0.22"/>
<circle cx="1237.8" cy="1148.5" r="2.5" fill="#2a7fd8" fill-opacity="0.22"/>
<circle cx="1238.0" cy="1152.0" r="2.5" fill="#2a7fd8" fill-opacity="0.22"/>
<circle cx="1299.2" cy="1146.8" r="2.5" fill="#2a7fd8" fill-opacity="0.22"/>
<circle cx="1122.2" cy="1149.1" r="2.5" fill="#2a7fd8" fill-opacity="0.22"/>
<circle cx="1125.1" cy="1151.6" r="2.5" fill="#2a7fd8" fill-opacity="0.22"/>
<circle cx="1095.0" cy="1150.1" r="2.5" fill="#2a7fd8" fill-opacity="0.22"/>
<circle cx="1090.3" cy="1155.4" r="2.5" fill="#2a7fd8" fill-opacity="0.22"/>
<circle cx="1095.0" cy="1152.6" r="2.5" fill="#2a7fd8" fill-opacity="0.22"/>
<circle cx="1098.5" cy="1156.6" r="2.5" fill="#2a7fd8" fill-opacity="0.22"/>
<circle cx="1197.9" cy="1155.4" r="2.5" fill="#2a7fd8" fill-opacity="0.22"/>
<circle cx="1219.8" cy="1156.4" r="2.5" fill="#2a7fd8" fill-opacity="0.22"/>
<circle cx="1157.7" cy="1155.4" r="2.5" fill="#2a7fd8" fill-opacity="0.22"/>
<circle cx="1162.8" cy="1156.0" r="2.5" fill="#2a7fd8" fill-opacity="0.22"/>
<circle cx="1253.7" cy="1159.4" r="2.5" fill="#2a7fd8" fill-opacity="0.22"/>
<circle cx="1290.4" cy="1159.1" r="2.5" fill="#2a7fd8" fill-opacity="0.22"/>
<circle cx="1117.0" cy="1161.9" r="2.5" fill="#2a7fd8" fill-opacity="0.22"/>
<circle cx="1135.2" cy="1161.4" r="2.5" fill="#2a7fd8" fill-opacity="0.22"/>
<circle cx="1146.5" cy="1162.9" r="2.5" fill="#2a7fd8" fill-opacity="0.22"/>
<circle cx="1191.6" cy="1161.0" r="2.5" fill="#2a7fd8" fill-opacity="0.22"/>
<circle cx="1201.6" cy="1161.0" r="2.5" fill="#2a7fd8" fill-opacity="0.22"/>
<circle cx="1170.7" cy="1165.0" r="2.5" fill="#2a7fd8" fill-opacity="0.22"/>
<circle cx="1219.8" cy="1162.3" r="2.5" fill="#2a7fd8" fill-opacity="0.22"/>
<circle cx="1222.1" cy="1165.4" r="2.5" fill="#2a7fd8" fill-opacity="0.22"/>
<circle cx="1234.9" cy="1161.0" r="2.5" fill="#2a7fd8" fill-opacity="0.22"/>
<circle cx="1233.6" cy="1166.7" r="2.5" fill="#2a7fd8" fill-opacity="0.22"/>
<circle cx="1281.3" cy="1163.8" r="2.5" fill="#2a7fd8" fill-opacity="0.22"/>
<circle cx="1294.4" cy="1164.1" r="2.5" fill="#2a7fd8" fill-opacity="0.22"/>
<circle cx="1270.1" cy="1166.7" r="2.5" fill="#2a7fd8" fill-opacity="0.22"/>
<circle cx="1291.3" cy="1167.3" r="2.5" fill="#2a7fd8" fill-opacity="0.22"/>
<circle cx="1301.3" cy="1166.7" r="2.5" fill="#2a7fd8" fill-opacity="0.22"/>
<circle cx="1152.3" cy="1167.9" r="2.5" fill="#2a7fd8" fill-opacity="0.22"/>
<circle cx="1186.6" cy="1171.0" r="2.5" fill="#2a7fd8" fill-opacity="0.22"/>
<circle cx="1192.6" cy="1171.7" r="2.5" fill="#2a7fd8" fill-opacity="0.22"/>
<circle cx="1221.1" cy="1171.9" r="2.5" fill="#2a7fd8" fill-opacity="0.22"/>
<circle cx="1093.2" cy="1173.6" r="2.5" fill="#2a7fd8" fill-opacity="0.22"/>
<circle cx="1104.4" cy="1173.8" r="2.5" fill="#2a7fd8" fill-opacity="0.22"/>
<circle cx="1165.9" cy="1176.4" r="2.5" fill="#2a7fd8" fill-opacity="0.22"/>
<circle cx="1181.6" cy="1174.2" r="2.5" fill="#2a7fd8" fill-opacity="0.22"/>
<circle cx="1198.9" cy="1176.3" r="2.5" fill="#2a7fd8" fill-opacity="0.22"/>
<circle cx="1215.1" cy="1178.6" r="2.5" fill="#2a7fd8" fill-opacity="0.22"/>
<circle cx="1217.9" cy="1178.6" r="2.5" fill="#2a7fd8" fill-opacity="0.22"/>
<circle cx="1267.7" cy="1176.3" r="2.5" fill="#2a7fd8" fill-opacity="0.22"/>
<circle cx="1278.5" cy="1180.1" r="2.5" fill="#2a7fd8" fill-opacity="0.22"/>
<circle cx="1115.1" cy="1179.4" r="2.5" fill="#2a7fd8" fill-opacity="0.22"/>
<circle cx="1105.1" cy="1181.3" r="2.5" fill="#2a7fd8" fill-opacity="0.22"/>
<circle cx="1180.3" cy="1181.1" r="2.5" fill="#2a7fd8" fill-opacity="0.22"/>
<circle cx="1200.1" cy="1179.8" r="2.5" fill="#2a7fd8" fill-opacity="0.22"/>
<circle cx="1226.1" cy="1180.1" r="2.5" fill="#2a7fd8" fill-opacity="0.22"/>
<circle cx="1252.4" cy="1178.8" r="2.5" fill="#2a7fd8" fill-opacity="0.22"/>
<circle cx="1255.6" cy="1177.3" r="2.5" fill="#2a7fd8" fill-opacity="0.22"/>
<circle cx="1248.9" cy="1183.6" r="2.5" fill="#2a7fd8" fill-opacity="0.22"/>
<circle cx="1264.3" cy="1182.7" r="2.5" fill="#2a7fd8" fill-opacity="0.22"/>
<circle cx="1103.8" cy="1184.2" r="2.5" fill="#2a7fd8" fill-opacity="0.22"/>
<circle cx="1116.4" cy="1185.2" r="2.5" fill="#2a7fd8" fill-opacity="0.22"/>
<circle cx="1121.4" cy="1185.8" r="2.5" fill="#2a7fd8" fill-opacity="0.22"/>
<circle cx="1135.8" cy="1184.5" r="2.5" fill="#2a7fd8" fill-opacity="0.22"/>
<circle cx="1149.3" cy="1180.5" r="2.5" fill="#2a7fd8" fill-opacity="0.22"/>
<circle cx="1152.7" cy="1183.0" r="2.5" fill="#2a7fd8" fill-opacity="0.22"/>
<circle cx="1181.6" cy="1183.0" r="2.5" fill="#2a7fd8" fill-opacity="0.22"/>
<circle cx="1189.1" cy="1183.0" r="2.5" fill="#2a7fd8" fill-opacity="0.22"/>
<circle cx="1198.5" cy="1184.2" r="2.5" fill="#2a7fd8" fill-opacity="0.22"/>
<circle cx="1201.6" cy="1184.2" r="2.5" fill="#2a7fd8" fill-opacity="0.22"/>
<circle cx="1220.5" cy="1187.3" r="2.5" fill="#2a7fd8" fill-opacity="0.22"/>
<circle cx="1225.5" cy="1187.3" r="2.5" fill="#2a7fd8" fill-opacity="0.22"/>
<circle cx="1246.8" cy="1190.1" r="2.5" fill="#2a7fd8" fill-opacity="0.22"/>
<circle cx="1265.0" cy="1196.1" r="2.5" fill="#2a7fd8" fill-opacity="0.22"/>
<circle cx="1272.8" cy="1193.4" r="2.5" fill="#2a7fd8" fill-opacity="0.22"/>
<circle cx="1275.6" cy="1184.2" r="2.5" fill="#2a7fd8" fill-opacity="0.22"/>
<circle cx="1279.4" cy="1182.3" r="2.5" fill="#2a7fd8" fill-opacity="0.22"/>
<circle cx="1285.3" cy="1184.0" r="2.5" fill="#2a7fd8" fill-opacity="0.22"/>
<circle cx="1288.2" cy="1184.8" r="2.5" fill="#2a7fd8" fill-opacity="0.22"/>
<circle cx="1303.2" cy="1192.4" r="2.5" fill="#2a7fd8" fill-opacity="0.22"/>
<circle cx="1282.8" cy="1197.1" r="2.5" fill="#2a7fd8" fill-opacity="0.22"/>
<circle cx="1111.0" cy="1189.9" r="2.5" fill="#2a7fd8" fill-opacity="0.22"/>
<circle cx="1118.9" cy="1193.9" r="2.5" fill="#2a7fd8" fill-opacity="0.22"/>
<circle cx="1099.7" cy="1193.9" r="2.5" fill="#2a7fd8" fill-opacity="0.22"/>
<circle cx="1143.6" cy="1192.4" r="2.5" fill="#2a7fd8" fill-opacity="0.22"/>
<circle cx="1149.6" cy="1193.9" r="2.5" fill="#2a7fd8" fill-opacity="0.22"/>
<circle cx="1151.1" cy="1191.1" r="2.5" fill="#2a7fd8" fill-opacity="0.22"/>
<circle cx="1156.5" cy="1193.4" r="2.5" fill="#2a7fd8" fill-opacity="0.22"/>
<circle cx="1182.2" cy="1191.1" r="2.5" fill="#2a7fd8" fill-opacity="0.22"/>
<circle cx="1183.7" cy="1194.2" r="2.5" fill="#2a7fd8" fill-opacity="0.22"/>
<circle cx="1190.4" cy="1191.7" r="2.5" fill="#2a7fd8" fill-opacity="0.22"/>
<circle cx="1195.4" cy="1197.1" r="2.5" fill="#2a7fd8" fill-opacity="0.22"/>
<circle cx="1199.1" cy="1197.1" r="2.5" fill="#2a7fd8" fill-opacity="0.22"/>
<circle cx="1235.5" cy="1193.0" r="2.5" fill="#2a7fd8" fill-opacity="0.22"/>
<circle cx="1235.5" cy="1196.8" r="2.5" fill="#2a7fd8" fill-opacity="0.22"/>
<circle cx="1242.4" cy="1193.0" r="2.5" fill="#2a7fd8" fill-opacity="0.22"/>
<circle cx="1244.3" cy="1194.9" r="2.5" fill="#2a7fd8" fill-opacity="0.22"/>
<circle cx="1252.4" cy="1193.0" r="2.5" fill="#2a7fd8" fill-opacity="0.22"/>
<circle cx="1256.2" cy="1193.9" r="2.5" fill="#2a7fd8" fill-opacity="0.22"/>
<circle cx="1003.6" cy="1045.0" r="2.5" fill="#2a7fd8" fill-opacity="0.22"/>
<circle cx="1020.2" cy="1046.0" r="2.5" fill="#2a7fd8" fill-opacity="0.22"/>
<circle cx="993.8" cy="1053.5" r="2.5" fill="#2a7fd8" fill-opacity="0.22"/>
<circle cx="993.8" cy="1057.5" r="2.5" fill="#2a7fd8" fill-opacity="0.22"/>
<circle cx="1006.1" cy="1055.0" r="2.5" fill="#2a7fd8" fill-opacity="0.22"/>
<circle cx="1008.2" cy="1057.5" r="2.5" fill="#2a7fd8" fill-opacity="0.22"/>
<circle cx="1007.9" cy="1059.4" r="2.5" fill="#2a7fd8" fill-opacity="0.22"/>
<circle cx="1013.9" cy="1061.3" r="2.5" fill="#2a7fd8" fill-opacity="0.22"/>
<circle cx="1016.4" cy="1055.7" r="2.5" fill="#2a7fd8" fill-opacity="0.22"/>
<circle cx="1018.3" cy="1057.5" r="2.5" fill="#2a7fd8" fill-opacity="0.22"/>
<circle cx="1024.5" cy="1051.3" r="2.5" fill="#2a7fd8" fill-opacity="0.22"/>
<circle cx="1028.9" cy="1055.0" r="2.5" fill="#2a7fd8" fill-opacity="0.22"/>
<circle cx="1032.7" cy="1062.8" r="2.5" fill="#2a7fd8" fill-opacity="0.22"/>
<circle cx="1023.3" cy="1065.7" r="2.5" fill="#2a7fd8" fill-opacity="0.22"/>
<circle cx="1024.5" cy="1068.2" r="2.5" fill="#2a7fd8" fill-opacity="0.22"/>
<circle cx="1026.2" cy="1071.3" r="2.5" fill="#2a7fd8" fill-opacity="0.22"/>
<circle cx="1027.0" cy="1073.8" r="2.5" fill="#2a7fd8" fill-opacity="0.22"/>
<circle cx="1000.1" cy="1064.4" r="2.5" fill="#2a7fd8" fill-opacity="0.22"/>
<circle cx="995.1" cy="1067.6" r="2.5" fill="#2a7fd8" fill-opacity="0.22"/>
<circle cx="993.2" cy="1072.0" r="2.5" fill="#2a7fd8" fill-opacity="0.22"/>
<circle cx="1003.6" cy="1072.2" r="2.5" fill="#2a7fd8" fill-opacity="0.22"/>
<circle cx="997.6" cy="1080.7" r="2.5" fill="#2a7fd8" fill-opacity="0.22"/>
<circle cx="1002.6" cy="1093.0" r="2.5" fill="#2a7fd8" fill-opacity="0.22"/>
<circle cx="1024.9" cy="1078.6" r="2.5" fill="#2a7fd8" fill-opacity="0.22"/>
<circle cx="1022.7" cy="1099.2" r="2.5" fill="#2a7fd8" fill-opacity="0.22"/>
<circle cx="1025.2" cy="1100.2" r="2.5" fill="#2a7fd8" fill-opacity="0.22"/>
<circle cx="1000.1" cy="1117.7" r="2.5" fill="#2a7fd8" fill-opacity="0.22"/>
<circle cx="995.9" cy="1125.3" r="2.5" fill="#2a7fd8" fill-opacity="0.22"/>
<circle cx="1009.7" cy="1127.1" r="2.5" fill="#2a7fd8" fill-opacity="0.22"/>
<circle cx="1008.9" cy="1133.8" r="2.5" fill="#2a7fd8" fill-opacity="0.22"/>
<circle cx="1046.2" cy="1167.3" r="2.5" fill="#2a7fd8" fill-opacity="0.22"/>
<circle cx="1063.8" cy="1158.9" r="2.5" fill="#2a7fd8" fill-opacity="0.22"/>
<circle cx="1062.5" cy="1146.3" r="2.5" fill="#2a7fd8" fill-opacity="0.22"/>
<circle cx="1045.5" cy="1103.9" r="2.5" fill="#2a7fd8" fill-opacity="0.22"/>
<circle cx="1042.5" cy="1088.9" r="2.5" fill="#2a7fd8" fill-opacity="0.22"/>
<circle cx="1055.0" cy="1088.9" r="2.5" fill="#2a7fd8" fill-opacity="0.22"/>
<circle cx="1045.2" cy="1081.1" r="2.5" fill="#2a7fd8" fill-opacity="0.22"/>
<circle cx="1043.7" cy="1069.1" r="2.5" fill="#2a7fd8" fill-opacity="0.22"/>
<circle cx="1041.5" cy="1056.0" r="2.5" fill="#2a7fd8" fill-opacity="0.22"/>
<circle cx="1045.2" cy="1056.0" r="2.5" fill="#2a7fd8" fill-opacity="0.22"/>
<circle cx="1058.4" cy="1050.6" r="2.5" fill="#2a7fd8" fill-opacity="0.22"/>
<circle cx="1052.4" cy="1066.3" r="2.5" fill="#2a7fd8" fill-opacity="0.22"/>
<circle cx="1050.9" cy="1072.8" r="2.5" fill="#2a7fd8" fill-opacity="0.22"/>
<circle cx="1054.3" cy="1072.6" r="2.5" fill="#2a7fd8" fill-opacity="0.22"/>
<circle cx="1057.8" cy="1076.4" r="2.5" fill="#2a7fd8" fill-opacity="0.22"/>
<circle cx="1061.5" cy="1080.1" r="2.5" fill="#2a7fd8" fill-opacity="0.22"/>
<circle cx="1068.4" cy="1080.7" r="2.5" fill="#2a7fd8" fill-opacity="0.22"/>
<circle cx="1070.9" cy="1078.2" r="2.5" fill="#2a7fd8" fill-opacity="0.22"/>
<circle cx="1061.5" cy="1060.7" r="2.5" fill="#2a7fd8" fill-opacity="0.22"/>
<circle cx="1070.3" cy="1063.8" r="2.5" fill="#2a7fd8" fill-opacity="0.22"/>
<circle cx="1072.8" cy="1060.1" r="2.5" fill="#2a7fd8" fill-opacity="0.22"/>
<circle cx="1074.5" cy="1069.2" r="2.5" fill="#2a7fd8" fill-opacity="0.22"/>
<circle cx="1077.8" cy="1053.8" r="2.5" fill="#2a7fd8" fill-opacity="0.22"/>
<circle cx="1070.9" cy="1088.5" r="2.5" fill="#2a7fd8" fill-opacity="0.22"/>
<circle cx="1061.8" cy="1095.8" r="2.5" fill="#2a7fd8" fill-opacity="0.22"/>
<circle cx="1061.8" cy="1099.6" r="2.5" fill="#2a7fd8" fill-opacity="0.22"/>
<circle cx="1068.8" cy="1097.0" r="2.5" fill="#2a7fd8" fill-opacity="0.22"/>
<circle cx="1075.3" cy="1093.3" r="2.5" fill="#2a7fd8" fill-opacity="0.22"/>
<circle cx="1079.7" cy="1090.8" r="2.5" fill="#2a7fd8" fill-opacity="0.22"/>
<circle cx="1076.0" cy="1095.2" r="2.5" fill="#2a7fd8" fill-opacity="0.22"/>
<circle cx="1064.3" cy="1105.2" r="2.5" fill="#2a7fd8" fill-opacity="0.22"/>
<circle cx="1079.5" cy="1102.9" r="2.5" fill="#2a7fd8" fill-opacity="0.22"/>
<circle cx="1065.6" cy="1110.2" r="2.5" fill="#2a7fd8" fill-opacity="0.22"/>
<circle cx="1055.0" cy="1113.6" r="2.5" fill="#2a7fd8" fill-opacity="0.22"/>
<circle cx="1069.9" cy="1115.0" r="2.5" fill="#2a7fd8" fill-opacity="0.22"/>
<circle cx="1077.8" cy="1107.7" r="2.5" fill="#2a7fd8" fill-opacity="0.22"/>
<circle cx="1083.9" cy="1123.4" r="2.5" fill="#2a7fd8" fill-opacity="0.22"/>
<circle cx="1083.1" cy="1127.1" r="2.5" fill="#2a7fd8" fill-opacity="0.22"/>
<circle cx="1077.6" cy="1141.6" r="2.5" fill="#2a7fd8" fill-opacity="0.22"/>
<circle cx="1075.0" cy="1144.7" r="2.5" fill="#2a7fd8" fill-opacity="0.22"/>
<circle cx="1078.5" cy="1142.8" r="2.5" fill="#2a7fd8" fill-opacity="0.22"/>
<circle cx="1080.4" cy="1143.5" r="2.5" fill="#2a7fd8" fill-opacity="0.22"/>
<circle cx="1077.2" cy="1149.7" r="2.5" fill="#2a7fd8" fill-opacity="0.22"/>
<circle cx="1075.3" cy="1179.4" r="2.5" fill="#2a7fd8" fill-opacity="0.22"/>
<circle cx="1083.9" cy="1184.0" r="2.5" fill="#2a7fd8" fill-opacity="0.22"/>
<circle cx="1077.8" cy="1187.7" r="2.5" fill="#2a7fd8" fill-opacity="0.22"/>
<circle cx="992.9" cy="894.4" r="2.5" fill="#2a7fd8" fill-opacity="0.22"/>
<circle cx="996.1" cy="907.3" r="2.5" fill="#2a7fd8" fill-opacity="0.22"/>
<circle cx="993.8" cy="911.7" r="2.5" fill="#2a7fd8" fill-opacity="0.22"/>
<circle cx="995.7" cy="912.0" r="2.5" fill="#2a7fd8" fill-opacity="0.22"/>
<circle cx="993.6" cy="928.9" r="2.5" fill="#2a7fd8" fill-opacity="0.22"/>
<circle cx="996.1" cy="929.1" r="2.5" fill="#2a7fd8" fill-opacity="0.22"/>
<circle cx="997.3" cy="937.7" r="2.5" fill="#2a7fd8" fill-opacity="0.22"/>
<circle cx="993.8" cy="937.7" r="2.5" fill="#2a7fd8" fill-opacity="0.22"/>
<circle cx="993.2" cy="940.8" r="2.5" fill="#2a7fd8" fill-opacity="0.22"/>
<circle cx="998.6" cy="949.6" r="2.5" fill="#2a7fd8" fill-opacity="0.22"/>
<circle cx="994.4" cy="954.0" r="2.5" fill="#2a7fd8" fill-opacity="0.22"/>
<circle cx="996.9" cy="955.2" r="2.5" fill="#2a7fd8" fill-opacity="0.22"/>
<circle cx="993.8" cy="960.9" r="2.5" fill="#2a7fd8" fill-opacity="0.22"/>
<circle cx="993.2" cy="974.7" r="2.5" fill="#2a7fd8" fill-opacity="0.22"/>
<circle cx="992.9" cy="980.1" r="2.5" fill="#2a7fd8" fill-opacity="0.22"/>
<circle cx="996.3" cy="983.8" r="2.5" fill="#2a7fd8" fill-opacity="0.22"/>
<circle cx="992.9" cy="989.1" r="2.5" fill="#2a7fd8" fill-opacity="0.22"/>
<circle cx="998.2" cy="989.7" r="2.5" fill="#2a7fd8" fill-opacity="0.22"/>
<circle cx="998.8" cy="992.6" r="2.5" fill="#2a7fd8" fill-opacity="0.22"/>
<circle cx="999.7" cy="995.1" r="2.5" fill="#2a7fd8" fill-opacity="0.22"/>
<circle cx="993.2" cy="997.9" r="2.5" fill="#2a7fd8" fill-opacity="0.22"/>
<circle cx="998.2" cy="1006.0" r="2.5" fill="#2a7fd8" fill-opacity="0.22"/>
<circle cx="999.5" cy="1007.3" r="2.5" fill="#2a7fd8" fill-opacity="0.22"/>
<circle cx="992.9" cy="1010.4" r="2.5" fill="#2a7fd8" fill-opacity="0.22"/>
<circle cx="996.9" cy="1012.9" r="2.5" fill="#2a7fd8" fill-opacity="0.22"/>
<circle cx="992.9" cy="1020.8" r="2.5" fill="#2a7fd8" fill-opacity="0.22"/>
<circle cx="992.9" cy="1028.0" r="2.5" fill="#2a7fd8" fill-opacity="0.22"/>
<circle cx="993.2" cy="1031.1" r="2.5" fill="#2a7fd8" fill-opacity="0.22"/>
<circle cx="993.8" cy="1039.0" r="2.5" fill="#2a7fd8" fill-opacity="0.22"/>
<circle cx="995.7" cy="1034.9" r="2.5" fill="#2a7fd8" fill-opacity="0.22"/>
<circle cx="997.6" cy="1038.6" r="2.5" fill="#2a7fd8" fill-opacity="0.22"/>
<circle cx="1000.7" cy="908.5" r="2.5" fill="#2a7fd8" fill-opacity="0.22"/>
<circle cx="999.7" cy="914.8" r="2.5" fill="#2a7fd8" fill-opacity="0.22"/>
<circle cx="1001.6" cy="933.0" r="2.5" fill="#2a7fd8" fill-opacity="0.22"/>
<circle cx="1007.4" cy="944.6" r="2.5" fill="#2a7fd8" fill-opacity="0.22"/>
<circle cx="1010.1" cy="943.1" r="2.5" fill="#2a7fd8" fill-opacity="0.22"/>
<circle cx="1005.7" cy="957.1" r="2.5" fill="#2a7fd8" fill-opacity="0.22"/>
<circle cx="1002.0" cy="961.5" r="2.5" fill="#2a7fd8" fill-opacity="0.22"/>
<circle cx="1003.8" cy="965.3" r="2.5" fill="#2a7fd8" fill-opacity="0.22"/>
<circle cx="1009.1" cy="972.5" r="2.5" fill="#2a7fd8" fill-opacity="0.22"/>
<circle cx="1001.1" cy="978.4" r="2.5" fill="#2a7fd8" fill-opacity="0.22"/>
<circle cx="1005.5" cy="978.8" r="2.5" fill="#2a7fd8" fill-opacity="0.22"/>
<circle cx="1008.9" cy="979.9" r="2.5" fill="#2a7fd8" fill-opacity="0.22"/>
<circle cx="1011.7" cy="978.2" r="2.5" fill="#2a7fd8" fill-opacity="0.22"/>
<circle cx="1006.7" cy="1001.0" r="2.5" fill="#2a7fd8" fill-opacity="0.22"/>
<circle cx="1004.8" cy="1011.7" r="2.5" fill="#2a7fd8" fill-opacity="0.22"/>
<circle cx="1000.5" cy="1020.5" r="2.5" fill="#2a7fd8" fill-opacity="0.22"/>
<circle cx="1006.4" cy="1024.0" r="2.5" fill="#2a7fd8" fill-opacity="0.22"/>
<circle cx="1008.9" cy="1037.4" r="2.5" fill="#2a7fd8" fill-opacity="0.22"/>
<circle cx="997.8" cy="1044.3" r="2.5" fill="#2a7fd8" fill-opacity="0.22"/>
<circle cx="1008.6" cy="1041.8" r="2.5" fill="#2a7fd8" fill-opacity="0.22"/>
<circle cx="1059.0" cy="898.4" r="2.5" fill="#2a7fd8" fill-opacity="0.22"/>
<circle cx="1037.7" cy="908.8" r="2.5" fill="#2a7fd8" fill-opacity="0.22"/>
<circle cx="1018.3" cy="933.7" r="2.5" fill="#2a7fd8" fill-opacity="0.22"/>
<circle cx="1056.8" cy="935.2" r="2.5" fill="#2a7fd8" fill-opacity="0.22"/>
<circle cx="1079.3" cy="932.3" r="2.5" fill="#2a7fd8" fill-opacity="0.22"/>
<circle cx="1170.4" cy="932.8" r="2.5" fill="#2a7fd8" fill-opacity="0.22"/>
<circle cx="1015.8" cy="941.2" r="2.5" fill="#2a7fd8" fill-opacity="0.22"/>
<circle cx="1034.9" cy="940.9" r="2.5" fill="#2a7fd8" fill-opacity="0.22"/>
<circle cx="1048.0" cy="944.9" r="2.5" fill="#2a7fd8" fill-opacity="0.22"/>
<circle cx="1046.7" cy="946.7" r="2.5" fill="#2a7fd8" fill-opacity="0.22"/>
<circle cx="1024.5" cy="949.6" r="2.5" fill="#2a7fd8" fill-opacity="0.22"/>
<circle cx="1053.6" cy="949.6" r="2.5" fill="#2a7fd8" fill-opacity="0.22"/>
<circle cx="1083.9" cy="949.0" r="2.5" fill="#2a7fd8" fill-opacity="0.22"/>
<circle cx="1088.9" cy="972.5" r="2.5" fill="#2a7fd8" fill-opacity="0.22"/>
<circle cx="1021.8" cy="974.0" r="2.5" fill="#2a7fd8" fill-opacity="0.22"/>
<circle cx="1024.9" cy="975.7" r="2.5" fill="#2a7fd8" fill-opacity="0.22"/>
<circle cx="1037.5" cy="979.3" r="2.5" fill="#2a7fd8" fill-opacity="0.22"/>
<circle cx="1033.3" cy="981.6" r="2.5" fill="#2a7fd8" fill-opacity="0.22"/>
<circle cx="1046.7" cy="980.9" r="2.5" fill="#2a7fd8" fill-opacity="0.22"/>
<circle cx="1053.0" cy="981.6" r="2.5" fill="#2a7fd8" fill-opacity="0.22"/>
<circle cx="1034.6" cy="991.2" r="2.5" fill="#2a7fd8" fill-opacity="0.22"/>
<circle cx="1014.9" cy="995.4" r="2.5" fill="#2a7fd8" fill-opacity="0.22"/>
<circle cx="1017.0" cy="994.5" r="2.5" fill="#2a7fd8" fill-opacity="0.22"/>
<circle cx="1030.2" cy="994.1" r="2.5" fill="#2a7fd8" fill-opacity="0.22"/>
<circle cx="1064.7" cy="992.2" r="2.5" fill="#2a7fd8" fill-opacity="0.22"/>
<circle cx="1089.8" cy="995.1" r="2.5" fill="#2a7fd8" fill-opacity="0.22"/>
<circle cx="1141.2" cy="994.4" r="2.5" fill="#2a7fd8" fill-opacity="0.22"/>
<circle cx="1045.6" cy="996.0" r="2.5" fill="#2a7fd8" fill-opacity="0.22"/>
<circle cx="1074.1" cy="997.5" r="2.5" fill="#2a7fd8" fill-opacity="0.22"/>
<circle cx="1083.9" cy="997.0" r="2.5" fill="#2a7fd8" fill-opacity="0.22"/>
<circle cx="1031.8" cy="998.9" r="2.5" fill="#2a7fd8" fill-opacity="0.22"/>
<circle cx="1045.0" cy="999.8" r="2.5" fill="#2a7fd8" fill-opacity="0.22"/>
<circle cx="1108.6" cy="998.3" r="2.5" fill="#2a7fd8" fill-opacity="0.22"/>
<circle cx="1127.0" cy="999.1" r="2.5" fill="#2a7fd8" fill-opacity="0.22"/>
<circle cx="1028.7" cy="1002.9" r="2.5" fill="#2a7fd8" fill-opacity="0.22"/>
<circle cx="1075.6" cy="1001.9" r="2.5" fill="#2a7fd8" fill-opacity="0.22"/>
<circle cx="1081.9" cy="1002.0" r="2.5" fill="#2a7fd8" fill-opacity="0.22"/>
<circle cx="1118.9" cy="1002.5" r="2.5" fill="#2a7fd8" fill-opacity="0.22"/>
<circle cx="1030.8" cy="1006.3" r="2.5" fill="#2a7fd8" fill-opacity="0.22"/>
<circle cx="1054.6" cy="1004.4" r="2.5" fill="#2a7fd8" fill-opacity="0.22"/>
<circle cx="1057.8" cy="1005.0" r="2.5" fill="#2a7fd8" fill-opacity="0.22"/>
<circle cx="1090.4" cy="1005.8" r="2.5" fill="#2a7fd8" fill-opacity="0.22"/>
<circle cx="1030.4" cy="1010.0" r="2.5" fill="#2a7fd8" fill-opacity="0.22"/>
<circle cx="1043.7" cy="1009.5" r="2.5" fill="#2a7fd8" fill-opacity="0.22"/>
<circle cx="1055.9" cy="1014.8" r="2.5" fill="#2a7fd8" fill-opacity="0.22"/>
<circle cx="1059.0" cy="1016.7" r="2.5" fill="#2a7fd8" fill-opacity="0.22"/>
<circle cx="1053.4" cy="1017.7" r="2.5" fill="#2a7fd8" fill-opacity="0.22"/>
<circle cx="1044.2" cy="1019.2" r="2.5" fill="#2a7fd8" fill-opacity="0.22"/>
<circle cx="1013.0" cy="1023.6" r="2.5" fill="#2a7fd8" fill-opacity="0.22"/>
<circle cx="1033.3" cy="1022.0" r="2.5" fill="#2a7fd8" fill-opacity="0.22"/>
<circle cx="1038.0" cy="1024.2" r="2.5" fill="#2a7fd8" fill-opacity="0.22"/>
<circle cx="1039.0" cy="1026.5" r="2.5" fill="#2a7fd8" fill-opacity="0.22"/>
<circle cx="1054.6" cy="1022.3" r="2.5" fill="#2a7fd8" fill-opacity="0.22"/>
<circle cx="1107.7" cy="1022.2" r="2.5" fill="#2a7fd8" fill-opacity="0.22"/>
<circle cx="1116.5" cy="1022.7" r="2.5" fill="#2a7fd8" fill-opacity="0.22"/>
<circle cx="1055.9" cy="1029.9" r="2.5" fill="#2a7fd8" fill-opacity="0.22"/>
<circle cx="1070.3" cy="1028.4" r="2.5" fill="#2a7fd8" fill-opacity="0.22"/>
<circle cx="1092.6" cy="1028.2" r="2.5" fill="#2a7fd8" fill-opacity="0.22"/>
<circle cx="1100.4" cy="1027.3" r="2.5" fill="#2a7fd8" fill-opacity="0.22"/>
<circle cx="1093.5" cy="1033.2" r="2.5" fill="#2a7fd8" fill-opacity="0.22"/>
<circle cx="1013.6" cy="1033.0" r="2.5" fill="#2a7fd8" fill-opacity="0.22"/>
<circle cx="1017.6" cy="1036.8" r="2.5" fill="#2a7fd8" fill-opacity="0.22"/>
<circle cx="1012.6" cy="1038.0" r="2.5" fill="#2a7fd8" fill-opacity="0.22"/>
<circle cx="1071.3" cy="1036.4" r="2.5" fill="#2a7fd8" fill-opacity="0.22"/>
<circle cx="1042.7" cy="1039.0" r="2.5" fill="#2a7fd8" fill-opacity="0.22"/>
<circle cx="1104.6" cy="1038.0" r="2.5" fill="#2a7fd8" fill-opacity="0.22"/>
<circle cx="1046.9" cy="1042.7" r="2.5" fill="#2a7fd8" fill-opacity="0.22"/>
<circle cx="1016.4" cy="1044.9" r="2.5" fill="#2a7fd8" fill-opacity="0.22"/>
<circle cx="1112.0" cy="1042.0" r="2.5" fill="#2a7fd8" fill-opacity="0.22"/>
<circle cx="1141.6" cy="1042.0" r="2.5" fill="#2a7fd8" fill-opacity="0.22"/>
<circle cx="1068.8" cy="1045.0" r="2.5" fill="#2a7fd8" fill-opacity="0.22"/>
<circle cx="1198.5" cy="1179.8" r="2.5" fill="#2a7fd8" fill-opacity="0.22"/>
<circle cx="1199.8" cy="1181.7" r="2.5" fill="#2a7fd8" fill-opacity="0.22"/>
<circle cx="1201.0" cy="1183.0" r="2.5" fill="#2a7fd8" fill-opacity="0.22"/>
<circle cx="1202.9" cy="1184.8" r="2.5" fill="#2a7fd8" fill-opacity="0.22"/>
<circle cx="1204.8" cy="1186.7" r="2.5" fill="#2a7fd8" fill-opacity="0.22"/>
<circle cx="1206.0" cy="1188.6" r="2.5" fill="#2a7fd8" fill-opacity="0.22"/>
<circle cx="1180.3" cy="1176.7" r="2.5" fill="#2a7fd8" fill-opacity="0.22"/>
<circle cx="1178.4" cy="1177.9" r="2.5" fill="#2a7fd8" fill-opacity="0.22"/>
<circle cx="1184.1" cy="1184.2" r="2.5" fill="#2a7fd8" fill-opacity="0.22"/>
<circle cx="1185.3" cy="1186.1" r="2.5" fill="#2a7fd8" fill-opacity="0.22"/>
<circle cx="1186.6" cy="1191.1" r="2.5" fill="#2a7fd8" fill-opacity="0.22"/>
<circle cx="1189.7" cy="1188.0" r="2.5" fill="#2a7fd8" fill-opacity="0.22"/>
<circle cx="1191.6" cy="1194.2" r="2.5" fill="#2a7fd8" fill-opacity="0.22"/>
<circle cx="1181.6" cy="1193.0" r="2.5" fill="#2a7fd8" fill-opacity="0.22"/>
<circle cx="1184.1" cy="1191.7" r="2.5" fill="#2a7fd8" fill-opacity="0.22"/>
<circle cx="1177.2" cy="1188.6" r="2.5" fill="#2a7fd8" fill-opacity="0.22"/>
<circle cx="1174.7" cy="1183.0" r="2.5" fill="#2a7fd8" fill-opacity="0.22"/>
<circle cx="1172.8" cy="1185.5" r="2.5" fill="#2a7fd8" fill-opacity="0.22"/>
<circle cx="1165.3" cy="1184.2" r="2.5" fill="#2a7fd8" fill-opacity="0.22"/>
<circle cx="1167.8" cy="1180.5" r="2.5" fill="#2a7fd8" fill-opacity="0.22"/>
<circle cx="1159.0" cy="1190.5" r="2.5" fill="#2a7fd8" fill-opacity="0.22"/>
<circle cx="1154.0" cy="1193.0" r="2.5" fill="#2a7fd8" fill-opacity="0.22"/>
<circle cx="1150.8" cy="1195.5" r="2.5" fill="#2a7fd8" fill-opacity="0.22"/>
<circle cx="1158.4" cy="1194.9" r="2.5" fill="#2a7fd8" fill-opacity="0.22"/>
<circle cx="1211.7" cy="1189.2" r="2.5" fill="#2a7fd8" fill-opacity="0.22"/>
<circle cx="1215.4" cy="1186.7" r="2.5" fill="#2a7fd8" fill-opacity="0.22"/>
<circle cx="1218.6" cy="1189.2" r="2.5" fill="#2a7fd8" fill-opacity="0.22"/>
<circle cx="1222.3" cy="1186.1" r="2.5" fill="#2a7fd8" fill-opacity="0.22"/>
<circle cx="993.6" cy="897.5" r="2.5" fill="#2a7fd8" fill-opacity="0.22"/>
<circle cx="992.8" cy="902.3" r="2.5" fill="#2a7fd8" fill-opacity="0.22"/>
<circle cx="993.8" cy="905.7" r="2.5" fill="#2a7fd8" fill-opacity="0.22"/>
<circle cx="992.9" cy="909.5" r="2.5" fill="#2a7fd8" fill-opacity="0.22"/>
<circle cx="994.1" cy="913.8" r="2.5" fill="#2a7fd8" fill-opacity="0.22"/>
<circle cx="993.8" cy="922.6" r="2.5" fill="#2a7fd8" fill-opacity="0.22"/>
<circle cx="993.1" cy="927.0" r="2.5" fill="#2a7fd8" fill-opacity="0.22"/>
<circle cx="993.8" cy="931.4" r="2.5" fill="#2a7fd8" fill-opacity="0.22"/>
<circle cx="993.3" cy="935.8" r="2.5" fill="#2a7fd8" fill-opacity="0.22"/>
<circle cx="994.1" cy="939.6" r="2.5" fill="#2a7fd8" fill-opacity="0.22"/>
<circle cx="993.2" cy="942.7" r="2.5" fill="#2a7fd8" fill-opacity="0.22"/>
<circle cx="993.8" cy="948.3" r="2.5" fill="#2a7fd8" fill-opacity="0.22"/>
<circle cx="993.3" cy="952.7" r="2.5" fill="#2a7fd8" fill-opacity="0.22"/>
<circle cx="994.1" cy="955.9" r="2.5" fill="#2a7fd8" fill-opacity="0.22"/>
<circle cx="993.3" cy="959.0" r="2.5" fill="#2a7fd8" fill-opacity="0.22"/>
<circle cx="993.8" cy="962.5" r="2.5" fill="#2a7fd8" fill-opacity="0.22"/>
<circle cx="993.3" cy="965.9" r="2.5" fill="#2a7fd8" fill-opacity="0.22"/>
<circle cx="994.1" cy="969.0" r="2.5" fill="#2a7fd8" fill-opacity="0.22"/>
<circle cx="995.1" cy="965.3" r="2.5" fill="#2a7fd8" fill-opacity="0.22"/>
<circle cx="995.7" cy="960.3" r="2.5" fill="#2a7fd8" fill-opacity="0.22"/>
<circle cx="994.8" cy="916.4" r="2.5" fill="#2a7fd8" fill-opacity="0.22"/>
<circle cx="995.3" cy="926.4" r="2.5" fill="#2a7fd8" fill-opacity="0.22"/>
<circle cx="994.8" cy="945.2" r="2.5" fill="#2a7fd8" fill-opacity="0.22"/>
<circle cx="995.6" cy="952.7" r="2.5" fill="#2a7fd8" fill-opacity="0.22"/>
<circle cx="996.9" cy="966.5" r="2.5" fill="#2a7fd8" fill-opacity="0.22"/>
<circle cx="998.2" cy="968.4" r="2.5" fill="#2a7fd8" fill-opacity="0.22"/>
<circle cx="1000.7" cy="965.3" r="2.5" fill="#2a7fd8" fill-opacity="0.22"/>
<circle cx="1000.1" cy="971.5" r="2.5" fill="#2a7fd8" fill-opacity="0.22"/>
<circle cx="1623.8" cy="1101.4" r="2.5" fill="#2a7fd8" fill-opacity="0.42"/>
<circle cx="1696.0" cy="1129.0" r="2.5" fill="#2a7fd8" fill-opacity="0.42"/>
<circle cx="1722.5" cy="1166.3" r="2.5" fill="#2a7fd8" fill-opacity="0.42"/>
<circle cx="1539.8" cy="1183.3" r="2.5" fill="#2a7fd8" fill-opacity="0.42"/>
<circle cx="1592.4" cy="1187.1" r="2.5" fill="#2a7fd8" fill-opacity="0.42"/>
<circle cx="1703.7" cy="1189.6" r="2.5" fill="#2a7fd8" fill-opacity="0.42"/>
<circle cx="1586.7" cy="1198.3" r="2.5" fill="#2a7fd8" fill-opacity="0.42"/>
<circle cx="1672.6" cy="1197.0" r="2.5" fill="#2a7fd8" fill-opacity="0.42"/>
<circle cx="1739.7" cy="1198.3" r="2.5" fill="#2a7fd8" fill-opacity="0.42"/>
<circle cx="1412.8" cy="1139.4" r="2.5" fill="#2a7fd8" fill-opacity="0.42"/>
<circle cx="1441.9" cy="1147.8" r="2.5" fill="#2a7fd8" fill-opacity="0.42"/>
<circle cx="1353.8" cy="1151.4" r="2.5" fill="#2a7fd8" fill-opacity="0.42"/>
<circle cx="1313.8" cy="1154.7" r="2.5" fill="#2a7fd8" fill-opacity="0.42"/>
<circle cx="1364.3" cy="1165.2" r="2.5" fill="#2a7fd8" fill-opacity="0.42"/>
<circle cx="1475.3" cy="1172.7" r="2.5" fill="#2a7fd8" fill-opacity="0.42"/>
<circle cx="1449.6" cy="1174.3" r="2.5" fill="#2a7fd8" fill-opacity="0.42"/>
<circle cx="1320.0" cy="1171.7" r="2.5" fill="#2a7fd8" fill-opacity="0.42"/>
<circle cx="1365.2" cy="1177.3" r="2.5" fill="#2a7fd8" fill-opacity="0.42"/>
<circle cx="1331.9" cy="1183.3" r="2.5" fill="#2a7fd8" fill-opacity="0.42"/>
<circle cx="1511.5" cy="1184.5" r="2.5" fill="#2a7fd8" fill-opacity="0.42"/>
<circle cx="1333.0" cy="1188.9" r="2.5" fill="#2a7fd8" fill-opacity="0.42"/>
<circle cx="1507.3" cy="1189.9" r="2.5" fill="#2a7fd8" fill-opacity="0.42"/>
<circle cx="1389.3" cy="1190.4" r="2.5" fill="#2a7fd8" fill-opacity="0.42"/>
<circle cx="1401.9" cy="1190.9" r="2.5" fill="#2a7fd8" fill-opacity="0.42"/>
<circle cx="1353.5" cy="1192.4" r="2.5" fill="#2a7fd8" fill-opacity="0.42"/>
<circle cx="1339.8" cy="1198.3" r="2.5" fill="#2a7fd8" fill-opacity="0.42"/>
<circle cx="1348.8" cy="1198.3" r="2.5" fill="#2a7fd8" fill-opacity="0.42"/>
<circle cx="1370.8" cy="1195.0" r="2.5" fill="#2a7fd8" fill-opacity="0.42"/>
<circle cx="1384.6" cy="1195.1" r="2.5" fill="#2a7fd8" fill-opacity="0.42"/>
<circle cx="1407.2" cy="1195.1" r="2.5" fill="#2a7fd8" fill-opacity="0.42"/>
<circle cx="1409.1" cy="1197.1" r="2.5" fill="#2a7fd8" fill-opacity="0.42"/>
<circle cx="1409.7" cy="1198.6" r="2.5" fill="#2a7fd8" fill-opacity="0.42"/>
<circle cx="1415.1" cy="1197.1" r="2.5" fill="#2a7fd8" fill-opacity="0.42"/>
<circle cx="1448.6" cy="1198.0" r="2.5" fill="#2a7fd8" fill-opacity="0.42"/>
<circle cx="1450.7" cy="1197.1" r="2.5" fill="#2a7fd8" fill-opacity="0.42"/>
<circle cx="1455.1" cy="1198.0" r="2.5" fill="#2a7fd8" fill-opacity="0.42"/>
<circle cx="1472.2" cy="1197.4" r="2.5" fill="#2a7fd8" fill-opacity="0.42"/>
<circle cx="1473.0" cy="1198.3" r="2.5" fill="#2a7fd8" fill-opacity="0.42"/>
<circle cx="1482.1" cy="1197.8" r="2.5" fill="#2a7fd8" fill-opacity="0.42"/>
<circle cx="1490.6" cy="1197.1" r="2.5" fill="#2a7fd8" fill-opacity="0.42"/>
<circle cx="1496.5" cy="1198.0" r="2.5" fill="#2a7fd8" fill-opacity="0.42"/>
<circle cx="1086.5" cy="1076.0" r="2.5" fill="#2a7fd8" fill-opacity="0.42"/>
<circle cx="1138.1" cy="1082.0" r="2.5" fill="#2a7fd8" fill-opacity="0.42"/>
<circle cx="1086.5" cy="1096.7" r="2.5" fill="#2a7fd8" fill-opacity="0.42"/>
<circle cx="1090.0" cy="1099.8" r="2.5" fill="#2a7fd8" fill-opacity="0.42"/>
<circle cx="1135.2" cy="1102.7" r="2.5" fill="#2a7fd8" fill-opacity="0.42"/>
<circle cx="1271.1" cy="1102.9" r="2.5" fill="#2a7fd8" fill-opacity="0.42"/>
<circle cx="1112.0" cy="1107.7" r="2.5" fill="#2a7fd8" fill-opacity="0.42"/>
<circle cx="1132.4" cy="1113.0" r="2.5" fill="#2a7fd8" fill-opacity="0.42"/>
<circle cx="1166.3" cy="1112.7" r="2.5" fill="#2a7fd8" fill-opacity="0.42"/>
<circle cx="1185.2" cy="1111.8" r="2.5" fill="#2a7fd8" fill-opacity="0.42"/>
<circle cx="1125.8" cy="1118.7" r="2.5" fill="#2a7fd8" fill-opacity="0.42"/>
<circle cx="1235.0" cy="1120.8" r="2.5" fill="#2a7fd8" fill-opacity="0.42"/>
<circle cx="1103.6" cy="1122.1" r="2.5" fill="#2a7fd8" fill-opacity="0.42"/>
<circle cx="1164.0" cy="1124.9" r="2.5" fill="#2a7fd8" fill-opacity="0.42"/>
<circle cx="1164.4" cy="1126.5" r="2.5" fill="#2a7fd8" fill-opacity="0.42"/>
<circle cx="1202.9" cy="1127.4" r="2.5" fill="#2a7fd8" fill-opacity="0.42"/>
<circle cx="1102.6" cy="1127.8" r="2.5" fill="#2a7fd8" fill-opacity="0.42"/>
<circle cx="1090.0" cy="1132.5" r="2.5" fill="#2a7fd8" fill-opacity="0.42"/>
<circle cx="1096.0" cy="1136.2" r="2.5" fill="#2a7fd8" fill-opacity="0.42"/>
<circle cx="1162.8" cy="1137.2" r="2.5" fill="#2a7fd8" fill-opacity="0.42"/>
<circle cx="1189.2" cy="1136.6" r="2.5" fill="#2a7fd8" fill-opacity="0.42"/>
<circle cx="1244.5" cy="1135.9" r="2.5" fill="#2a7fd8" fill-opacity="0.42"/>
<circle cx="1157.1" cy="1143.7" r="2.5" fill="#2a7fd8" fill-opacity="0.42"/>
<circle cx="1268.7" cy="1148.5" r="2.5" fill="#2a7fd8" fill-opacity="0.42"/>
<circle cx="1112.3" cy="1147.6" r="2.5" fill="#2a7fd8" fill-opacity="0.42"/>
<circle cx="1175.1" cy="1148.8" r="2.5" fill="#2a7fd8" fill-opacity="0.42"/>
<circle cx="1206.7" cy="1150.1" r="2.5" fill="#2a7fd8" fill-opacity="0.42"/>
<circle cx="1234.6" cy="1150.4" r="2.5" fill="#2a7fd8" fill-opacity="0.42"/>
<circle cx="1092.8" cy="1151.6" r="2.5" fill="#2a7fd8" fill-opacity="0.42"/>
<circle cx="1191.9" cy="1152.9" r="2.5" fill="#2a7fd8" fill-opacity="0.42"/>
<circle cx="1147.1" cy="1155.6" r="2.5" fill="#2a7fd8" fill-opacity="0.42"/>
<circle cx="1295.2" cy="1155.4" r="2.5" fill="#2a7fd8" fill-opacity="0.42"/>
<circle cx="1240.5" cy="1157.2" r="2.5" fill="#2a7fd8" fill-opacity="0.42"/>
<circle cx="1156.2" cy="1158.3" r="2.5" fill="#2a7fd8" fill-opacity="0.42"/>
<circle cx="1170.3" cy="1157.2" r="2.5" fill="#2a7fd8" fill-opacity="0.42"/>
<circle cx="1186.6" cy="1157.9" r="2.5" fill="#2a7fd8" fill-opacity="0.42"/>
<circle cx="1256.2" cy="1159.1" r="2.5" fill="#2a7fd8" fill-opacity="0.42"/>
<circle cx="1119.1" cy="1158.9" r="2.5" fill="#2a7fd8" fill-opacity="0.42"/>
<circle cx="1128.6" cy="1162.9" r="2.5" fill="#2a7fd8" fill-opacity="0.42"/>
<circle cx="1238.0" cy="1168.5" r="2.5" fill="#2a7fd8" fill-opacity="0.42"/>
<circle cx="1087.3" cy="1172.9" r="2.5" fill="#2a7fd8" fill-opacity="0.42"/>
<circle cx="1112.3" cy="1172.9" r="2.5" fill="#2a7fd8" fill-opacity="0.42"/>
<circle cx="1151.1" cy="1172.7" r="2.5" fill="#2a7fd8" fill-opacity="0.42"/>
<circle cx="1155.2" cy="1174.6" r="2.5" fill="#2a7fd8" fill-opacity="0.42"/>
<circle cx="1161.5" cy="1176.1" r="2.5" fill="#2a7fd8" fill-opacity="0.42"/>
<circle cx="1175.6" cy="1176.3" r="2.5" fill="#2a7fd8" fill-opacity="0.42"/>
<circle cx="1178.7" cy="1175.1" r="2.5" fill="#2a7fd8" fill-opacity="0.42"/>
<circle cx="1182.4" cy="1177.9" r="2.5" fill="#2a7fd8" fill-opacity="0.42"/>
<circle cx="1192.9" cy="1175.1" r="2.5" fill="#2a7fd8" fill-opacity="0.42"/>
<circle cx="1088.1" cy="1177.3" r="2.5" fill="#2a7fd8" fill-opacity="0.42"/>
<circle cx="1144.2" cy="1178.8" r="2.5" fill="#2a7fd8" fill-opacity="0.42"/>
<circle cx="1157.7" cy="1180.5" r="2.5" fill="#2a7fd8" fill-opacity="0.42"/>
<circle cx="1177.2" cy="1181.1" r="2.5" fill="#2a7fd8" fill-opacity="0.42"/>
<circle cx="1237.4" cy="1181.8" r="2.5" fill="#2a7fd8" fill-opacity="0.42"/>
<circle cx="1247.2" cy="1178.9" r="2.5" fill="#2a7fd8" fill-opacity="0.42"/>
<circle cx="1224.8" cy="1183.2" r="2.5" fill="#2a7fd8" fill-opacity="0.42"/>
<circle cx="1098.8" cy="1184.0" r="2.5" fill="#2a7fd8" fill-opacity="0.42"/>
<circle cx="1127.0" cy="1183.6" r="2.5" fill="#2a7fd8" fill-opacity="0.42"/>
<circle cx="1128.3" cy="1186.1" r="2.5" fill="#2a7fd8" fill-opacity="0.42"/>
<circle cx="1185.7" cy="1188.6" r="2.5" fill="#2a7fd8" fill-opacity="0.42"/>
<circle cx="1204.1" cy="1188.0" r="2.5" fill="#2a7fd8" fill-opacity="0.42"/>
<circle cx="1207.3" cy="1190.5" r="2.5" fill="#2a7fd8" fill-opacity="0.42"/>
<circle cx="1201.6" cy="1191.1" r="2.5" fill="#2a7fd8" fill-opacity="0.42"/>
<circle cx="1216.7" cy="1188.6" r="2.5" fill="#2a7fd8" fill-opacity="0.42"/>
<circle cx="1231.7" cy="1190.5" r="2.5" fill="#2a7fd8" fill-opacity="0.42"/>
<circle cx="1238.3" cy="1190.1" r="2.5" fill="#2a7fd8" fill-opacity="0.42"/>
<circle cx="1261.8" cy="1187.1" r="2.5" fill="#2a7fd8" fill-opacity="0.42"/>
<circle cx="1276.9" cy="1189.6" r="2.5" fill="#2a7fd8" fill-opacity="0.42"/>
<circle cx="1293.8" cy="1194.2" r="2.5" fill="#2a7fd8" fill-opacity="0.42"/>
<circle cx="1297.8" cy="1194.9" r="2.5" fill="#2a7fd8" fill-opacity="0.42"/>
<circle cx="1102.9" cy="1189.0" r="2.5" fill="#2a7fd8" fill-opacity="0.42"/>
<circle cx="1115.5" cy="1192.1" r="2.5" fill="#2a7fd8" fill-opacity="0.42"/>
<circle cx="1171.3" cy="1196.4" r="2.5" fill="#2a7fd8" fill-opacity="0.42"/>
<circle cx="1177.6" cy="1191.1" r="2.5" fill="#2a7fd8" fill-opacity="0.42"/>
<circle cx="1187.2" cy="1195.9" r="2.5" fill="#2a7fd8" fill-opacity="0.42"/>
<circle cx="1208.5" cy="1195.9" r="2.5" fill="#2a7fd8" fill-opacity="0.42"/>
<circle cx="1228.0" cy="1195.3" r="2.5" fill="#2a7fd8" fill-opacity="0.42"/>
<circle cx="1016.1" cy="1064.1" r="2.5" fill="#2a7fd8" fill-opacity="0.42"/>
<circle cx="1032.7" cy="1053.5" r="2.5" fill="#2a7fd8" fill-opacity="0.42"/>
<circle cx="1000.5" cy="1067.8" r="2.5" fill="#2a7fd8" fill-opacity="0.42"/>
<circle cx="993.2" cy="1079.9" r="2.5" fill="#2a7fd8" fill-opacity="0.42"/>
<circle cx="996.3" cy="1086.8" r="2.5" fill="#2a7fd8" fill-opacity="0.42"/>
<circle cx="1017.4" cy="1092.4" r="2.5" fill="#2a7fd8" fill-opacity="0.42"/>
<circle cx="992.9" cy="1094.5" r="2.5" fill="#2a7fd8" fill-opacity="0.42"/>
<circle cx="1007.1" cy="1093.5" r="2.5" fill="#2a7fd8" fill-opacity="0.42"/>
<circle cx="993.2" cy="1103.7" r="2.5" fill="#2a7fd8" fill-opacity="0.42"/>
<circle cx="1023.0" cy="1120.3" r="2.5" fill="#2a7fd8" fill-opacity="0.42"/>
<circle cx="1029.9" cy="1131.8" r="2.5" fill="#2a7fd8" fill-opacity="0.42"/>
<circle cx="1058.2" cy="1179.6" r="2.5" fill="#2a7fd8" fill-opacity="0.42"/>
<circle cx="1050.6" cy="1091.7" r="2.5" fill="#2a7fd8" fill-opacity="0.42"/>
<circle cx="1036.8" cy="1076.0" r="2.5" fill="#2a7fd8" fill-opacity="0.42"/>
<circle cx="1042.7" cy="1078.9" r="2.5" fill="#2a7fd8" fill-opacity="0.42"/>
<circle cx="1041.1" cy="1083.5" r="2.5" fill="#2a7fd8" fill-opacity="0.42"/>
<circle cx="1042.7" cy="1061.3" r="2.5" fill="#2a7fd8" fill-opacity="0.42"/>
<circle cx="1044.2" cy="1065.7" r="2.5" fill="#2a7fd8" fill-opacity="0.42"/>
<circle cx="1048.4" cy="1053.5" r="2.5" fill="#2a7fd8" fill-opacity="0.42"/>
<circle cx="1051.5" cy="1051.5" r="2.5" fill="#2a7fd8" fill-opacity="0.42"/>
<circle cx="1054.0" cy="1051.3" r="2.5" fill="#2a7fd8" fill-opacity="0.42"/>
<circle cx="1055.3" cy="1055.7" r="2.5" fill="#2a7fd8" fill-opacity="0.42"/>
<circle cx="1064.9" cy="1053.5" r="2.5" fill="#2a7fd8" fill-opacity="0.42"/>
<circle cx="1068.8" cy="1046.9" r="2.5" fill="#2a7fd8" fill-opacity="0.42"/>
<circle cx="1055.3" cy="1077.9" r="2.5" fill="#2a7fd8" fill-opacity="0.42"/>
<circle cx="1057.8" cy="1082.0" r="2.5" fill="#2a7fd8" fill-opacity="0.42"/>
<circle cx="1062.5" cy="1082.6" r="2.5" fill="#2a7fd8" fill-opacity="0.42"/>
<circle cx="1063.8" cy="1085.1" r="2.5" fill="#2a7fd8" fill-opacity="0.42"/>
<circle cx="1065.1" cy="1087.4" r="2.5" fill="#2a7fd8" fill-opacity="0.42"/>
<circle cx="1064.3" cy="1065.7" r="2.5" fill="#2a7fd8" fill-opacity="0.42"/>
<circle cx="1075.7" cy="1085.1" r="2.5" fill="#2a7fd8" fill-opacity="0.42"/>
<circle cx="1061.3" cy="1091.7" r="2.5" fill="#2a7fd8" fill-opacity="0.42"/>
<circle cx="1071.8" cy="1097.7" r="2.5" fill="#2a7fd8" fill-opacity="0.42"/>
<circle cx="1071.2" cy="1106.5" r="2.5" fill="#2a7fd8" fill-opacity="0.42"/>
<circle cx="1073.5" cy="1106.2" r="2.5" fill="#2a7fd8" fill-opacity="0.42"/>
<circle cx="1078.1" cy="1104.9" r="2.5" fill="#2a7fd8" fill-opacity="0.42"/>
<circle cx="1060.3" cy="1111.1" r="2.5" fill="#2a7fd8" fill-opacity="0.42"/>
<circle cx="1067.2" cy="1110.2" r="2.5" fill="#2a7fd8" fill-opacity="0.42"/>
<circle cx="1082.2" cy="1121.5" r="2.5" fill="#2a7fd8" fill-opacity="0.42"/>
<circle cx="1081.0" cy="1124.6" r="2.5" fill="#2a7fd8" fill-opacity="0.42"/>
<circle cx="1081.6" cy="1148.5" r="2.5" fill="#2a7fd8" fill-opacity="0.42"/>
<circle cx="1082.9" cy="1150.6" r="2.5" fill="#2a7fd8" fill-opacity="0.42"/>
<circle cx="1076.6" cy="1152.9" r="2.5" fill="#2a7fd8" fill-opacity="0.42"/>
<circle cx="1078.8" cy="1179.2" r="2.5" fill="#2a7fd8" fill-opacity="0.42"/>
<circle cx="993.2" cy="900.7" r="2.5" fill="#2a7fd8" fill-opacity="0.42"/>
<circle cx="996.3" cy="899.4" r="2.5" fill="#2a7fd8" fill-opacity="0.42"/>
<circle cx="993.2" cy="903.8" r="2.5" fill="#2a7fd8" fill-opacity="0.42"/>
<circle cx="993.6" cy="907.6" r="2.5" fill="#2a7fd8" fill-opacity="0.42"/>
<circle cx="993.2" cy="924.9" r="2.5" fill="#2a7fd8" fill-opacity="0.42"/>
<circle cx="998.2" cy="935.8" r="2.5" fill="#2a7fd8" fill-opacity="0.42"/>
<circle cx="993.8" cy="943.9" r="2.5" fill="#2a7fd8" fill-opacity="0.42"/>
<circle cx="995.1" cy="943.7" r="2.5" fill="#2a7fd8" fill-opacity="0.42"/>
<circle cx="993.8" cy="946.5" r="2.5" fill="#2a7fd8" fill-opacity="0.42"/>
<circle cx="992.6" cy="950.8" r="2.5" fill="#2a7fd8" fill-opacity="0.42"/>
<circle cx="993.4" cy="957.1" r="2.5" fill="#2a7fd8" fill-opacity="0.42"/>
<circle cx="993.8" cy="964.0" r="2.5" fill="#2a7fd8" fill-opacity="0.42"/>
<circle cx="994.2" cy="967.1" r="2.5" fill="#2a7fd8" fill-opacity="0.42"/>
<circle cx="993.8" cy="990.7" r="2.5" fill="#2a7fd8" fill-opacity="0.42"/>
<circle cx="994.4" cy="1002.3" r="2.5" fill="#2a7fd8" fill-opacity="0.42"/>
<circle cx="993.8" cy="1026.1" r="2.5" fill="#2a7fd8" fill-opacity="0.42"/>
<circle cx="996.3" cy="1023.0" r="2.5" fill="#2a7fd8" fill-opacity="0.42"/>
<circle cx="996.9" cy="1024.8" r="2.5" fill="#2a7fd8" fill-opacity="0.42"/>
<circle cx="1000.5" cy="956.2" r="2.5" fill="#2a7fd8" fill-opacity="0.42"/>
<circle cx="999.5" cy="966.5" r="2.5" fill="#2a7fd8" fill-opacity="0.42"/>
<circle cx="1002.0" cy="967.8" r="2.5" fill="#2a7fd8" fill-opacity="0.42"/>
<circle cx="1002.0" cy="970.3" r="2.5" fill="#2a7fd8" fill-opacity="0.42"/>
<circle cx="999.5" cy="969.0" r="2.5" fill="#2a7fd8" fill-opacity="0.42"/>
<circle cx="1008.2" cy="1003.5" r="2.5" fill="#2a7fd8" fill-opacity="0.42"/>
<circle cx="1002.6" cy="1013.6" r="2.5" fill="#2a7fd8" fill-opacity="0.42"/>
<circle cx="1005.7" cy="1036.1" r="2.5" fill="#2a7fd8" fill-opacity="0.42"/>
<circle cx="1001.3" cy="1043.7" r="2.5" fill="#2a7fd8" fill-opacity="0.42"/>
<circle cx="1050.0" cy="977.4" r="2.5" fill="#2a7fd8" fill-opacity="0.42"/>
<circle cx="1029.2" cy="990.1" r="2.5" fill="#2a7fd8" fill-opacity="0.42"/>
<circle cx="1056.8" cy="989.3" r="2.5" fill="#2a7fd8" fill-opacity="0.42"/>
<circle cx="1074.3" cy="992.5" r="2.5" fill="#2a7fd8" fill-opacity="0.42"/>
<circle cx="1050.5" cy="996.6" r="2.5" fill="#2a7fd8" fill-opacity="0.42"/>
<circle cx="1034.6" cy="1001.0" r="2.5" fill="#2a7fd8" fill-opacity="0.42"/>
<circle cx="1090.8" cy="1000.0" r="2.5" fill="#2a7fd8" fill-opacity="0.42"/>
<circle cx="1044.2" cy="1015.2" r="2.5" fill="#2a7fd8" fill-opacity="0.42"/>
<circle cx="1062.8" cy="1020.5" r="2.5" fill="#2a7fd8" fill-opacity="0.42"/>
<circle cx="1012.6" cy="1021.5" r="2.5" fill="#2a7fd8" fill-opacity="0.42"/>
<circle cx="1030.6" cy="1023.0" r="2.5" fill="#2a7fd8" fill-opacity="0.42"/>
<circle cx="1051.5" cy="1024.0" r="2.5" fill="#2a7fd8" fill-opacity="0.42"/>
<circle cx="1022.7" cy="1028.4" r="2.5" fill="#2a7fd8" fill-opacity="0.42"/>
<circle cx="1035.8" cy="1029.9" r="2.5" fill="#2a7fd8" fill-opacity="0.42"/>
<circle cx="1048.1" cy="1029.2" r="2.5" fill="#2a7fd8" fill-opacity="0.42"/>
<circle cx="1043.7" cy="1035.1" r="2.5" fill="#2a7fd8" fill-opacity="0.42"/>
<circle cx="1056.5" cy="1035.9" r="2.5" fill="#2a7fd8" fill-opacity="0.42"/>
<circle cx="1020.2" cy="1044.3" r="2.5" fill="#2a7fd8" fill-opacity="0.42"/>
<circle cx="1162.9" cy="1038.3" r="2.5" fill="#2a7fd8" fill-opacity="0.42"/>
<circle cx="1210.5" cy="984.1" r="2.5" fill="#2a7fd8" fill-opacity="0.42"/>
<circle cx="993.3" cy="917.6" r="2.5" fill="#2a7fd8" fill-opacity="0.42"/>
<circle cx="1687.1" cy="1175.4" r="2.5" fill="#2a7fd8" fill-opacity="0.7"/>
<circle cx="1664.8" cy="1184.5" r="2.5" fill="#2a7fd8" fill-opacity="0.7"/>
<circle cx="1512.9" cy="1148.2" r="2.5" fill="#2a7fd8" fill-opacity="0.7"/>
<circle cx="1310.6" cy="1176.7" r="2.5" fill="#2a7fd8" fill-opacity="0.7"/>
<circle cx="1323.8" cy="1179.2" r="2.5" fill="#2a7fd8" fill-opacity="0.7"/>
<circle cx="1366.2" cy="1188.9" r="2.5" fill="#2a7fd8" fill-opacity="0.7"/>
<circle cx="1394.3" cy="1194.2" r="2.5" fill="#2a7fd8" fill-opacity="0.7"/>
<circle cx="1465.5" cy="1196.0" r="2.5" fill="#2a7fd8" fill-opacity="0.7"/>
<circle cx="1088.1" cy="1082.6" r="2.5" fill="#2a7fd8" fill-opacity="0.7"/>
<circle cx="1086.5" cy="1128.8" r="2.5" fill="#2a7fd8" fill-opacity="0.7"/>
<circle cx="1173.5" cy="1136.4" r="2.5" fill="#2a7fd8" fill-opacity="0.7"/>
<circle cx="1208.8" cy="1139.7" r="2.5" fill="#2a7fd8" fill-opacity="0.7"/>
<circle cx="1224.0" cy="1143.7" r="2.5" fill="#2a7fd8" fill-opacity="0.7"/>
<circle cx="1244.5" cy="1155.0" r="2.5" fill="#2a7fd8" fill-opacity="0.7"/>
<circle cx="1160.9" cy="1157.9" r="2.5" fill="#2a7fd8" fill-opacity="0.7"/>
<circle cx="1196.6" cy="1163.8" r="2.5" fill="#2a7fd8" fill-opacity="0.7"/>
<circle cx="1243.7" cy="1163.5" r="2.5" fill="#2a7fd8" fill-opacity="0.7"/>
<circle cx="1243.9" cy="1166.9" r="2.5" fill="#2a7fd8" fill-opacity="0.7"/>
<circle cx="1147.7" cy="1167.3" r="2.5" fill="#2a7fd8" fill-opacity="0.7"/>
<circle cx="1172.2" cy="1170.8" r="2.5" fill="#2a7fd8" fill-opacity="0.7"/>
<circle cx="1309.5" cy="1176.7" r="2.5" fill="#2a7fd8" fill-opacity="0.7"/>
<circle cx="1129.1" cy="1179.2" r="2.5" fill="#2a7fd8" fill-opacity="0.7"/>
<circle cx="1171.8" cy="1179.8" r="2.5" fill="#2a7fd8" fill-opacity="0.7"/>
<circle cx="1254.3" cy="1183.2" r="2.5" fill="#2a7fd8" fill-opacity="0.7"/>
<circle cx="1271.2" cy="1183.1" r="2.5" fill="#2a7fd8" fill-opacity="0.7"/>
<circle cx="1193.5" cy="1184.2" r="2.5" fill="#2a7fd8" fill-opacity="0.7"/>
<circle cx="1138.3" cy="1185.5" r="2.5" fill="#2a7fd8" fill-opacity="0.7"/>
<circle cx="1137.7" cy="1188.0" r="2.5" fill="#2a7fd8" fill-opacity="0.7"/>
<circle cx="1146.5" cy="1185.1" r="2.5" fill="#2a7fd8" fill-opacity="0.7"/>
<circle cx="1144.8" cy="1187.6" r="2.5" fill="#2a7fd8" fill-opacity="0.7"/>
<circle cx="1157.7" cy="1184.2" r="2.5" fill="#2a7fd8" fill-opacity="0.7"/>
<circle cx="1160.3" cy="1186.7" r="2.5" fill="#2a7fd8" fill-opacity="0.7"/>
<circle cx="1166.8" cy="1187.6" r="2.5" fill="#2a7fd8" fill-opacity="0.7"/>
<circle cx="1172.4" cy="1189.0" r="2.5" fill="#2a7fd8" fill-opacity="0.7"/>
<circle cx="1176.3" cy="1185.5" r="2.5" fill="#2a7fd8" fill-opacity="0.7"/>
<circle cx="1301.0" cy="1190.2" r="2.5" fill="#2a7fd8" fill-opacity="0.7"/>
<circle cx="1164.3" cy="1193.9" r="2.5" fill="#2a7fd8" fill-opacity="0.7"/>
<circle cx="1170.9" cy="1193.9" r="2.5" fill="#2a7fd8" fill-opacity="0.7"/>
<circle cx="992.9" cy="1050.3" r="2.5" fill="#2a7fd8" fill-opacity="0.7"/>
<circle cx="998.0" cy="1046.9" r="2.5" fill="#2a7fd8" fill-opacity="0.7"/>
<circle cx="1034.6" cy="1051.9" r="2.5" fill="#2a7fd8" fill-opacity="0.7"/>
<circle cx="1000.5" cy="1077.0" r="2.5" fill="#2a7fd8" fill-opacity="0.7"/>
<circle cx="1004.1" cy="1081.1" r="2.5" fill="#2a7fd8" fill-opacity="0.7"/>
<circle cx="1009.7" cy="1082.9" r="2.5" fill="#2a7fd8" fill-opacity="0.7"/>
<circle cx="1014.1" cy="1087.4" r="2.5" fill="#2a7fd8" fill-opacity="0.7"/>
<circle cx="1065.6" cy="1125.0" r="2.5" fill="#2a7fd8" fill-opacity="0.7"/>
<circle cx="1042.2" cy="1110.2" r="2.5" fill="#2a7fd8" fill-opacity="0.7"/>
<circle cx="1045.5" cy="1094.8" r="2.5" fill="#2a7fd8" fill-opacity="0.7"/>
<circle cx="1074.7" cy="1047.9" r="2.5" fill="#2a7fd8" fill-opacity="0.7"/>
<circle cx="1077.2" cy="1056.7" r="2.5" fill="#2a7fd8" fill-opacity="0.7"/>
<circle cx="1057.4" cy="1105.5" r="2.5" fill="#2a7fd8" fill-opacity="0.7"/>
<circle cx="1082.9" cy="1108.1" r="2.5" fill="#2a7fd8" fill-opacity="0.7"/>
<circle cx="1078.7" cy="1169.2" r="2.5" fill="#2a7fd8" fill-opacity="0.7"/>
<circle cx="1081.0" cy="1185.1" r="2.5" fill="#2a7fd8" fill-opacity="0.7"/>
<circle cx="993.2" cy="916.0" r="2.5" fill="#2a7fd8" fill-opacity="0.7"/>
<circle cx="992.9" cy="919.1" r="2.5" fill="#2a7fd8" fill-opacity="0.7"/>
<circle cx="994.8" cy="921.0" r="2.5" fill="#2a7fd8" fill-opacity="0.7"/>
<circle cx="995.1" cy="950.5" r="2.5" fill="#2a7fd8" fill-opacity="0.7"/>
<circle cx="993.8" cy="971.8" r="2.5" fill="#2a7fd8" fill-opacity="0.7"/>
<circle cx="994.2" cy="999.8" r="2.5" fill="#2a7fd8" fill-opacity="0.7"/>
<circle cx="1004.7" cy="952.3" r="2.5" fill="#2a7fd8" fill-opacity="0.7"/>
<circle cx="1003.0" cy="1023.0" r="2.5" fill="#2a7fd8" fill-opacity="0.7"/>
<circle cx="1005.1" cy="1043.0" r="2.5" fill="#2a7fd8" fill-opacity="0.7"/>
<circle cx="1029.6" cy="986.0" r="2.5" fill="#2a7fd8" fill-opacity="0.7"/>
<circle cx="1022.7" cy="992.9" r="2.5" fill="#2a7fd8" fill-opacity="0.7"/>
<circle cx="1021.2" cy="1003.9" r="2.5" fill="#2a7fd8" fill-opacity="0.7"/>
<circle cx="1040.2" cy="1006.3" r="2.5" fill="#2a7fd8" fill-opacity="0.7"/>
<circle cx="1120.9" cy="1011.9" r="2.5" fill="#2a7fd8" fill-opacity="0.7"/>
<circle cx="1054.9" cy="1026.1" r="2.5" fill="#2a7fd8" fill-opacity="0.7"/>
<circle cx="1033.9" cy="1029.9" r="2.5" fill="#2a7fd8" fill-opacity="0.7"/>
<circle cx="1052.8" cy="1036.4" r="2.5" fill="#2a7fd8" fill-opacity="0.7"/>
<circle cx="1658.5" cy="1177.9" r="2.5" fill="#2a7fd8" fill-opacity="1.0"/>
<circle cx="1086.3" cy="1140.3" r="2.5" fill="#2a7fd8" fill-opacity="1.0"/>
<circle cx="1110.7" cy="1146.0" r="2.5" fill="#2a7fd8" fill-opacity="1.0"/>
<circle cx="1243.0" cy="1161.6" r="2.5" fill="#2a7fd8" fill-opacity="1.0"/>
<circle cx="1215.4" cy="1169.8" r="2.5" fill="#2a7fd8" fill-opacity="1.0"/>
<circle cx="1091.5" cy="1171.9" r="2.5" fill="#2a7fd8" fill-opacity="1.0"/>
<circle cx="1211.4" cy="1183.0" r="2.5" fill="#2a7fd8" fill-opacity="1.0"/>
<circle cx="1157.5" cy="1189.9" r="2.5" fill="#2a7fd8" fill-opacity="1.0"/>
<circle cx="1197.6" cy="1189.9" r="2.5" fill="#2a7fd8" fill-opacity="1.0"/>
<circle cx="1297.8" cy="1197.8" r="2.5" fill="#2a7fd8" fill-opacity="1.0"/>
<circle cx="1122.9" cy="1188.9" r="2.5" fill="#2a7fd8" fill-opacity="1.0"/>
<circle cx="1167.4" cy="1193.2" r="2.5" fill="#2a7fd8" fill-opacity="1.0"/>
<circle cx="1179.1" cy="1195.3" r="2.5" fill="#2a7fd8" fill-opacity="1.0"/>
<circle cx="1209.5" cy="1198.0" r="2.5" fill="#2a7fd8" fill-opacity="1.0"/>
<circle cx="1223.0" cy="1197.0" r="2.5" fill="#2a7fd8" fill-opacity="1.0"/>
<circle cx="1008.6" cy="1075.4" r="2.5" fill="#2a7fd8" fill-opacity="1.0"/>
<circle cx="1055.9" cy="1138.4" r="2.5" fill="#2a7fd8" fill-opacity="1.0"/>
<circle cx="1078.8" cy="1155.6" r="2.5" fill="#2a7fd8" fill-opacity="1.0"/>
<circle cx="992.9" cy="933.7" r="2.5" fill="#2a7fd8" fill-opacity="1.0"/>
<circle cx="1005.1" cy="960.0" r="2.5" fill="#2a7fd8" fill-opacity="1.0"/>
<circle cx="1002.3" cy="975.6" r="2.5" fill="#2a7fd8" fill-opacity="1.0"/>
<circle cx="1039.8" cy="1002.5" r="2.5" fill="#2a7fd8" fill-opacity="1.0"/>
<circle cx="1014.9" cy="1028.9" r="2.5" fill="#2a7fd8" fill-opacity="1.0"/>
<circle cx="1022.7" cy="1034.2" r="2.5" fill="#2a7fd8" fill-opacity="1.0"/>
<circle cx="1157.1" cy="1039.6" r="2.5" fill="#2a7fd8" fill-opacity="1.0"/>
<circle cx="1329.4" cy="1166.0" r="2.5" fill="#1b5596" fill-opacity="1.0"/>
<circle cx="1162.1" cy="1184.0" r="2.5" fill="#1b5596" fill-opacity="1.0"/>
<circle cx="1154.9" cy="1187.3" r="2.5" fill="#1b5596" fill-opacity="1.0"/>
<circle cx="1163.0" cy="1190.1" r="2.5" fill="#1b5596" fill-opacity="1.0"/>
<circle cx="1256.8" cy="1190.5" r="2.5" fill="#1b5596" fill-opacity="1.0"/>
<circle cx="1262.5" cy="1194.2" r="2.5" fill="#1b5596" fill-opacity="1.0"/>
<circle cx="1017.6" cy="1048.8" r="2.5" fill="#1b5596" fill-opacity="1.0"/>
<circle cx="1057.1" cy="1130.9" r="2.5" fill="#1b5596" fill-opacity="1.0"/>
<circle cx="1076.3" cy="1123.8" r="2.5" fill="#1b5596" fill-opacity="1.0"/>
<circle cx="1078.8" cy="1135.3" r="2.5" fill="#1b5596" fill-opacity="1.0"/>
<circle cx="1029.8" cy="1041.3" r="2.5" fill="#1b5596" fill-opacity="1.0"/>
<polyline points="993.2,996.3 1076.6,1081.7 1160.1,1151.6 1243.5,1163.9 1327.0,1169.8 1410.4,1177.9 1493.9,1185.2 1577.3,1184.6 1660.8,1158.5 1744.2,1184.6" fill="none" stroke="#2a7fd8" stroke-width="2.5" stroke-linejoin="miter"/>
<circle cx="1592.9" cy="1194" r="4" fill="#2a7fd8"/>
<text x="1601.2" y="1199.5" font-size="12.7" font-weight="bold" fill="#2a7fd8" stroke="#fff" stroke-width="3" stroke-linejoin="round" paint-order="stroke">Avg.</text>
</svg>
<div class="abs" style="left:2656px;top:2455px;width:160px;height:2.4px;overflow:hidden;text-align:center;font-size:25.78px;line-height:26px;color:#adadad"><span style="position:relative;top:-3px">Position</span></div>
</div>
</body></html>
